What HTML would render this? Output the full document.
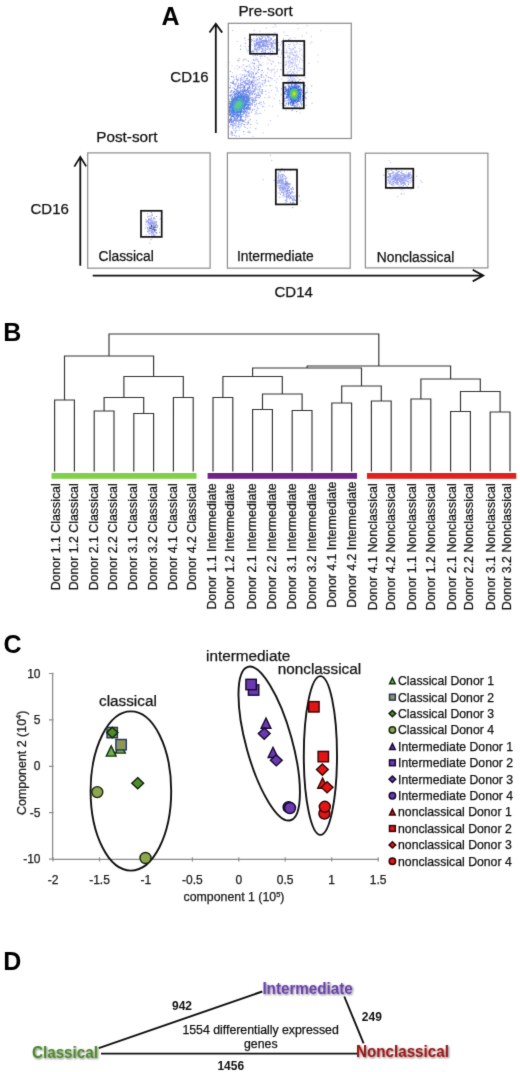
<!DOCTYPE html>
<html><head><meta charset="utf-8"><title>Figure</title>
<style>
html,body{margin:0;padding:0;background:#fff;}
body{width:520px;height:1072px;overflow:hidden;}
svg{display:block;}
text{font-family:"Liberation Sans",sans-serif;fill:#111;stroke:#111;stroke-width:0.25px;}
.b{font-weight:bold;stroke:none;}
.lab{font-size:13.8px;}
.big{font-size:25px;font-weight:bold;fill:#000;stroke:none;}
.den{stroke:#333;stroke-width:1.15;fill:none;}
.dl{font-size:12.35px;}
.ax{font-size:12px;fill:#222;}
.lab15{font-size:15px;}
.lab153{font-size:15.3px;}
.lg{font-size:12.25px;}
.el{fill:none;stroke:#111;stroke-width:1.9;}
.gate{fill:none;stroke:#111;stroke-width:1.7;}
.box{fill:none;stroke:#8c8c8c;stroke-width:1.2;}
.arr{fill:none;stroke:#111;stroke-width:1.8;}
</style></head><body>
<svg width="520" height="1072" viewBox="0 0 520 1072">
<defs>
<filter id="sh" x="-10%" y="-30%" width="120%" height="170%"><feGaussianBlur in="SourceAlpha" stdDeviation="1.1" result="b"/><feOffset in="b" dx="1" dy="1" result="o"/><feComponentTransfer in="o" result="s"><feFuncA type="linear" slope="0.55"/></feComponentTransfer><feMerge><feMergeNode in="s"/><feMergeNode in="SourceGraphic"/></feMerge></filter>
<filter id="bl"><feGaussianBlur stdDeviation="0.45"/></filter>
<filter id="soft" filterUnits="userSpaceOnUse" x="0" y="0" width="520" height="1072" color-interpolation-filters="sRGB"><feConvolveMatrix order="3" kernelMatrix="0.011 0.084 0.011 0.084 0.62 0.084 0.011 0.084 0.011" divisor="1" edgeMode="duplicate" preserveAlpha="true"/></filter>
</defs>
<g filter="url(#soft)">
<rect width="520" height="1072" fill="#fff"/>

<g id="panelA">
<text class="big" x="161.6" y="24.5">A</text>
<text class="lab15" style="font-size:15.3px" x="238.4" y="15.7">Pre-sort</text>
<text class="lab15" x="170.3" y="82.3">CD16</text>
<text class="lab15" style="font-size:15.3px" x="96.2" y="142.4">Post-sort</text>
<text class="lab15" x="30.5" y="213.7">CD16</text>
<text class="lab" x="98.5" y="261">Classical</text>
<text class="lab" x="237" y="261">Intermediate</text>
<text class="lab" x="376.8" y="261.5">Nonclassical</text>
<text class="lab15" x="274.5" y="296.8">CD14</text>
<g filter="url(#bl)">
<path d="M265.4 91.0h1M252.4 80.7h1M240.4 101.5h1M290.6 51.9h1M286.3 52.0h1M272.7 69.1h1M243.5 134.2h1M280.0 69.6h1M237.0 97.4h1M267.2 69.0h1M261.6 56.1h1M274.5 73.9h1M277.2 116.1h1M292.5 76.2h1M237.8 86.8h1M253.5 86.4h1M278.4 63.2h1M237.6 79.5h1M271.9 106.5h1M250.3 103.3h1M245.9 49.0h1M284.3 91.6h1M246.5 71.6h1M270.7 63.4h1M247.0 128.3h1M290.5 70.2h1M296.0 42.0h1M243.0 59.8h1M264.0 53.8h1M232.5 76.1h1M234.4 98.9h1M237.5 121.3h1M299.6 44.4h1M256.9 59.6h1M256.2 120.4h1M286.1 49.1h1M273.9 76.1h1M303.2 40.7h1M281.1 69.8h1M252.4 136.4h1M289.3 57.5h1M248.8 33.8h1M275.1 94.8h1M262.8 133.0h1M270.3 60.9h1M279.0 76.4h1M283.1 87.8h1M242.3 91.7h1M282.8 49.3h1M260.3 113.4h1M283.3 32.1h1M232.9 114.9h1M254.2 78.7h1M272.6 27.1h1M265.8 28.3h1M257.0 107.2h1M298.1 56.4h1M271.1 70.0h1M274.4 80.4h1M263.1 86.1h1M273.2 62.1h1M286.2 63.2h1M306.5 25.7h1M247.6 85.6h1M276.9 89.0h1M261.8 91.8h1M244.1 112.1h1M273.7 69.6h1M264.3 97.5h1M258.9 64.2h1M249.6 92.3h1M256.6 83.6h1M262.5 36.5h1M276.3 90.8h1M303.1 71.3h1M265.6 94.6h1M259.5 31.1h1M250.9 41.9h1M285.0 86.8h1M262.2 84.4h1M279.9 57.4h1M285.4 98.1h1M277.6 45.4h1M275.5 49.5h1M276.1 82.4h1M276.8 79.1h1M258.2 49.8h1M298.9 51.3h1M275.4 26.2h1M243.3 64.9h1M303.0 74.9h1M270.2 120.7h1M278.4 48.4h1M250.2 73.8h1M276.5 71.6h1M274.5 24.6h1M308.5 63.4h1M287.4 35.5h1M264.2 110.4h1M266.3 76.2h1M285.5 35.3h1M258.2 62.2h1M275.5 87.8h1M285.3 91.0h1M277.8 91.6h1M317.5 54.9h1M263.3 106.8h1M237.8 112.2h1M257.8 83.0h1M254.3 97.2h1M297.7 28.6h1M288.7 74.7h1M237.5 69.1h1M268.8 105.8h1M294.6 59.0h1M275.3 87.0h1M245.9 59.9h1M270.7 45.8h1M231.8 94.3h1M230.2 119.3h1M245.0 115.0h1M271.6 54.7h1M260.2 64.6h1M289.5 64.9h1M280.3 63.2h1M298.8 48.4h1M236.7 41.5h1M300.9 68.1h1M248.5 80.9h1M310.9 92.7h1M255.2 111.7h1M296.8 24.1h1M287.7 72.7h1M242.9 102.2h1M281.2 79.3h1M258.1 76.7h1M236.3 102.2h1M281.1 54.3h1M231.6 92.1h1M232.0 30.5h1M282.0 66.2h1M301.9 36.0h1M269.2 85.9h1M256.8 60.9h1M317.5 61.8h1M270.7 72.0h1M238.3 77.9h1M320.3 30.8h1M311.4 41.9h1M310.8 36.6h1M249.3 105.3h1M269.4 85.6h1M245.8 96.8h1M277.1 69.6h1M277.9 62.6h1M268.6 96.1h1M249.4 67.1h1M249.8 95.4h1M262.4 82.9h1M264.9 80.0h1M238.8 67.3h1M287.5 78.4h1M267.4 63.7h1M254.9 54.5h1M256.0 112.4h1M267.6 125.1h1M232.1 72.9h1M255.6 105.2h1M274.6 66.2h1M302.5 44.8h1M271.4 85.4h1M310.2 43.1h1M264.2 37.1h1M271.1 90.5h1M273.7 98.5h1M288.5 71.8h1M299.6 113.1h1M282.7 41.0h1M306.3 105.2h1M269.6 97.6h1M281.2 50.8h1M242.3 112.7h1M287.5 81.0h1M277.7 56.5h1M287.5 60.4h1M266.9 72.9h1M268.5 92.6h1M231.1 100.1h1M238.1 61.1h1M258.0 103.5h1M272.2 61.6h1M234.3 68.2h1M306.1 33.0h1M268.9 37.4h1M228.6 62.3h1M292.5 67.0h1M245.4 40.2h1M236.0 77.4h1M251.8 72.3h1M259.7 64.2h1M269.9 51.9h1M235.8 91.2h1M234.4 85.3h1M249.3 73.3h1M244.3 59.0h1M239.4 91.6h1M246.4 74.1h1M244.8 70.5h1M258.1 62.0h1M245.1 71.2h1M231.7 65.8h1M241.9 87.7h1M238.5 96.6h1M242.7 65.1h1M245.9 75.0h1M257.7 66.7h1M244.4 69.8h1M248.4 74.1h1M258.0 61.3h1M235.5 79.0h1M242.3 75.5h1M239.9 89.3h1M246.5 80.2h1M251.9 62.3h1M267.7 34.0h1M260.1 54.9h1M244.7 46.5h1M245.2 84.8h1M269.5 70.1h1M260.6 71.1h1M262.3 62.9h1M253.3 63.4h1M247.6 60.4h1M253.7 49.9h1M265.2 75.0h1M248.2 75.6h1M260.0 53.6h1M244.8 85.7h1M259.3 65.1h1M254.3 90.0h1M264.2 45.6h1M249.6 66.3h1M257.6 47.2h1M252.7 59.7h1M248.6 85.4h1M261.2 50.8h1M249.3 85.4h1M251.5 73.8h1M269.9 51.5h1M259.7 87.8h1M254.9 74.5h1M244.3 82.1h1M246.3 105.7h1M254.0 46.3h1M257.1 51.8h1M247.6 71.9h1M242.3 70.3h1M241.3 66.9h1M251.3 74.2h1M252.5 63.8h1M243.3 86.9h1M255.6 84.8h1M255.8 59.4h1M241.7 77.2h1M239.9 85.7h1M255.7 69.0h1M267.8 69.9h1M244.1 83.2h1M246.6 80.8h1M253.8 70.9h1M250.2 77.0h1M255.2 73.7h1M228.5 99.2h1M243.6 68.6h1M245.1 90.7h1M248.4 84.4h1M258.2 61.2h1M253.6 63.6h1M237.9 94.3h1M250.6 63.0h1M253.8 76.0h1M246.5 88.1h1M262.3 40.6h1M250.3 69.2h1M265.0 48.6h1M253.3 55.5h1M249.8 72.2h1M243.9 105.0h1M246.8 52.0h1M255.5 59.7h1M256.1 66.1h1M236.0 95.1h1M259.1 46.4h1M233.0 83.8h1M241.8 92.5h1M267.0 46.5h1M265.9 75.4h1M241.4 78.0h1M257.9 65.4h1M234.2 84.3h1M254.0 68.2h1M237.7 92.1h1M248.3 82.1h1M248.5 73.6h1M253.5 81.1h1M259.5 48.7h1M252.5 56.1h1M255.2 73.3h1M260.4 46.7h1M250.6 73.8h1M237.4 95.9h1M246.6 84.0h1M251.9 72.2h1M250.9 83.6h1M243.9 74.4h1M244.3 59.3h1M244.1 82.7h1M256.2 58.0h1M248.6 64.9h1M262.8 72.7h1M258.8 90.7h1M244.7 82.3h1M257.8 72.6h1M260.0 65.0h1M271.5 70.7h1M253.3 69.6h1M260.1 58.4h1M256.4 41.5h1M254.6 57.9h1M271.1 64.4h1M248.4 71.3h1M240.6 77.2h1M248.6 84.1h1M250.7 71.6h1M254.2 77.8h1M253.3 63.7h1M254.7 60.9h1M249.3 95.1h1M248.0 61.5h1M261.2 56.0h1M246.7 102.2h1M258.3 69.6h1M250.7 68.4h1M242.9 99.8h1M248.5 70.6h1M253.4 66.7h1M253.4 60.0h1M236.5 65.6h1M250.6 80.9h1M259.0 49.6h1M258.8 79.1h1M289.5 48.6h1M289.4 57.0h1M296.4 51.9h1M284.1 57.2h1M294.3 74.7h1M287.0 74.0h1M295.0 62.9h1M288.6 48.5h1M287.8 68.1h1M293.0 69.6h1M300.1 58.2h1M291.8 78.7h1M286.2 53.2h1M290.4 53.9h1M292.6 49.0h1M297.1 43.3h1M288.4 39.8h1M285.8 64.4h1M294.8 55.9h1M295.7 64.7h1M289.4 57.6h1M293.6 79.7h1M290.1 62.0h1M294.4 71.2h1M293.9 69.6h1M287.3 55.2h1M283.4 57.5h1M302.3 60.7h1M292.4 60.9h1M292.6 43.8h1M288.9 56.2h1M292.7 48.8h1M291.5 50.2h1M286.2 51.0h1M288.4 67.1h1M297.9 64.3h1M291.1 52.1h1M285.1 52.4h1M298.9 70.5h1M293.0 55.4h1M292.0 62.6h1M292.0 62.7h1M288.6 58.6h1M290.4 69.6h1M286.5 72.0h1M291.6 52.7h1M292.1 59.4h1M291.0 62.6h1M289.4 39.9h1M295.1 57.8h1M299.4 62.2h1M283.2 71.4h1M289.0 64.0h1M301.8 69.8h1M287.2 57.1h1M284.9 65.2h1M294.5 47.1h1M294.0 68.1h1M295.6 50.9h1M288.9 46.1h1M286.3 61.5h1M292.2 72.0h1M293.2 54.6h1M285.7 74.6h1M292.7 57.8h1M287.6 46.9h1M294.8 47.7h1M294.6 64.8h1M290.3 40.7h1M293.8 73.1h1M288.4 44.6h1M296.8 59.6h1M289.2 71.2h1M290.8 62.9h1M290.2 50.1h1M293.0 48.9h1M284.2 52.3h1M297.5 69.8h1M301.6 68.7h1M299.1 60.8h1M290.1 63.1h1M287.8 66.0h1M290.0 60.9h1M288.2 56.7h1M296.3 55.8h1M289.0 61.1h1M295.9 56.1h1M286.8 41.5h1M286.1 69.5h1M291.6 63.2h1M296.7 61.1h1M294.1 52.7h1M284.9 64.8h1M291.6 64.2h1M287.3 56.6h1M300.9 49.2h1M292.4 72.1h1M291.0 59.5h1M282.6 66.4h1M290.1 71.8h1M291.6 54.2h1M293.9 55.6h1M289.7 74.5h1M296.3 59.3h1M295.6 66.9h1M294.6 58.6h1M292.3 62.5h1M294.5 61.9h1M289.6 57.3h1M294.0 47.7h1M292.0 66.2h1M292.7 55.1h1M291.9 53.0h1M296.3 54.2h1M284.7 45.4h1M293.3 60.4h1M289.9 44.3h1M291.3 49.3h1M289.1 58.1h1M288.6 61.4h1M288.7 53.2h1M291.0 73.6h1M298.9 68.1h1M288.8 58.2h1M296.0 66.7h1M284.8 57.6h1M288.7 66.1h1M294.8 52.5h1M301.4 55.2h1M302.8 56.4h1M291.6 78.2h1M289.7 53.2h1M298.5 57.8h1M294.1 44.9h1M299.9 68.5h1M293.6 65.6h1M289.8 53.2h1M285.1 62.1h1M297.4 67.2h1M296.1 65.6h1M287.9 44.5h1M294.8 59.9h1M296.3 55.3h1M288.1 62.8h1M289.5 41.0h1M289.3 49.0h1M287.1 52.4h1M296.2 82.9h1M299.6 53.8h1M297.0 57.4h1M293.8 51.1h1M291.7 40.6h1M299.9 50.2h1M294.6 52.0h1M293.2 45.9h1M290.3 67.7h1M294.6 37.8h1M295.8 44.4h1M293.3 63.6h1M289.2 54.9h1M290.9 62.4h1M296.0 72.4h1M293.4 79.1h1M287.8 76.8h1M290.8 66.2h1M291.4 59.1h1M288.0 62.2h1M300.9 59.7h1M291.9 58.2h1M295.1 56.0h1M296.4 68.3h1M293.0 73.8h1M297.3 71.9h1M289.9 74.6h1M295.6 84.1h1M290.4 88.8h1M294.7 75.9h1M295.4 79.9h1M297.3 81.7h1M302.7 85.7h1M291.5 83.8h1M297.0 75.1h1M291.1 76.1h1M284.3 83.1h1M293.2 86.0h1M291.8 80.4h1M296.9 84.7h1M295.3 74.9h1M302.7 84.2h1M299.4 87.9h1M299.6 82.0h1M295.9 83.1h1M288.1 84.0h1M290.2 82.1h1M290.0 83.5h1M292.1 92.1h1M294.8 82.5h1M290.5 78.6h1M293.8 78.6h1M292.3 75.7h1M297.0 78.1h1M290.8 81.8h1M290.8 79.2h1M292.0 75.5h1M293.1 76.0h1M289.1 81.7h1M292.9 72.9h1M292.5 80.9h1M295.7 81.8h1M295.0 82.9h1" stroke="#b4b8f2" stroke-width="1" fill="none"/><path d="M242.9 109.8h1M244.5 80.7h1M235.3 119.8h1M242.5 92.3h1M234.5 84.4h1M230.3 110.2h1M237.7 99.2h1M256.2 100.2h1M242.7 60.9h1M252.7 90.2h1M248.6 104.6h1M234.6 104.2h1M234.0 112.7h1M243.5 94.9h1M235.5 76.6h1M248.0 90.7h1M247.1 96.6h1M248.7 81.5h1M252.1 110.5h1M242.4 94.7h1M248.6 102.8h1M247.3 97.7h1M244.7 96.3h1M237.8 120.1h1M235.2 104.9h1M237.8 114.1h1M245.0 114.2h1M238.6 58.6h1M240.3 110.5h1M236.5 111.3h1M248.8 97.1h1M228.6 79.0h1M237.6 107.1h1M236.1 96.9h1M238.2 95.2h1M252.4 84.7h1M238.0 100.7h1M234.5 124.3h1M234.5 118.6h1M234.5 113.2h1M236.4 111.8h1M251.6 90.8h1M235.5 104.8h1M237.0 60.4h1M267.7 97.9h1M241.9 93.0h1M249.6 90.7h1M238.0 96.6h1M232.8 115.0h1M264.9 91.3h1M274.3 72.3h1M236.2 95.5h1M241.2 123.5h1M237.0 111.6h1M237.5 100.9h1M237.4 94.4h1M245.3 94.1h1M237.7 103.1h1M247.6 88.0h1M250.3 93.2h1M251.5 104.0h1M265.6 85.7h1M244.4 103.9h1M255.4 87.6h1M238.3 113.4h1M252.2 80.9h1M230.5 113.5h1M247.3 77.0h1M238.2 112.8h1M257.6 80.1h1M242.6 93.4h1M231.0 90.9h1M231.3 98.0h1M242.3 102.6h1M243.9 120.5h1M229.3 115.7h1M233.5 92.9h1M249.6 109.8h1M240.6 89.8h1M232.8 126.7h1M231.1 112.2h1M252.8 102.5h1M253.8 85.8h1M240.9 125.7h1M260.8 77.6h1M247.2 66.1h1M242.9 99.7h1M235.2 98.8h1M249.1 113.0h1M232.4 128.5h1M233.3 111.5h1M245.4 91.9h1M243.0 124.4h1M258.7 82.3h1M238.7 130.3h1M241.3 112.6h1M231.8 93.9h1M246.2 99.0h1M246.8 105.3h1M234.7 110.5h1M241.9 108.9h1M250.7 92.5h1M252.8 74.7h1M236.5 127.6h1M254.8 93.4h1M236.1 126.1h1M242.7 86.4h1M230.3 92.4h1M230.9 91.0h1M236.0 118.7h1M234.1 95.5h1M251.9 84.9h1M245.7 83.3h1M236.6 89.1h1M271.6 78.9h1M246.3 108.3h1M239.0 111.8h1M234.2 88.9h1M231.8 121.9h1M241.7 119.5h1M233.6 83.8h1M234.7 114.9h1M253.0 78.1h1M245.2 111.8h1M234.4 123.7h1M229.9 106.5h1M259.0 78.3h1M260.5 89.8h1M260.9 65.8h1M246.0 96.6h1M254.3 106.2h1M262.0 93.7h1M254.9 100.3h1M232.1 112.0h1M231.1 119.9h1M242.3 95.9h1M240.5 98.2h1M240.3 116.7h1M249.9 102.2h1M237.5 93.3h1M233.5 113.9h1M242.3 111.4h1M248.4 91.0h1M244.8 81.3h1M243.7 81.6h1M236.8 99.6h1M242.8 101.3h1M234.3 84.1h1M232.1 111.6h1M244.8 111.0h1M253.0 85.4h1M234.7 89.9h1M243.6 85.6h1M248.0 84.5h1M238.7 108.9h1M232.5 106.2h1M241.9 101.0h1M252.4 79.4h1M268.5 81.0h1M261.7 80.5h1M258.8 113.3h1M238.6 101.9h1M252.5 80.9h1M238.5 98.0h1M260.9 93.8h1M237.4 107.4h1M259.3 91.2h1M231.4 112.0h1M243.5 116.8h1M252.9 72.9h1M230.7 110.3h1M239.3 122.5h1M235.3 122.1h1M258.3 76.6h1M256.0 100.7h1M235.8 112.6h1M252.1 109.4h1M259.4 82.6h1M246.5 100.8h1M255.8 97.8h1M240.6 118.5h1M237.3 119.6h1M236.8 97.7h1M230.0 111.2h1M242.0 103.2h1M243.5 98.4h1M241.0 96.6h1M249.2 108.0h1M229.6 105.8h1M259.2 54.0h1M246.7 106.2h1M245.6 94.9h1M231.4 104.6h1M249.7 93.7h1M235.7 111.3h1M244.5 103.6h1M234.1 101.4h1M260.6 104.7h1M239.5 74.7h1M251.8 94.9h1M264.9 79.0h1M233.9 106.2h1M248.5 98.0h1M238.1 91.7h1M232.8 104.7h1M234.4 114.7h1M249.0 93.7h1M240.6 97.1h1M232.8 100.6h1M241.2 99.2h1M233.9 101.8h1M236.4 93.6h1M236.1 78.9h1M243.1 85.1h1M240.1 91.5h1M258.9 97.9h1M239.9 119.8h1M257.3 89.1h1M245.2 117.9h1M238.7 124.9h1M229.4 120.0h1M244.5 91.0h1M244.7 100.8h1M251.9 82.4h1M235.6 102.3h1M239.9 81.1h1M245.0 95.2h1M243.0 105.4h1M238.7 110.0h1M235.4 99.8h1M238.7 116.7h1M252.1 86.5h1M253.4 65.8h1M236.5 107.3h1M235.0 120.2h1M246.3 80.2h1M231.5 82.9h1M231.5 107.0h1M231.8 104.3h1M247.3 108.4h1M234.7 109.8h1M245.2 110.1h1M244.0 107.6h1M237.1 86.4h1M255.1 100.9h1M243.0 108.9h1M250.6 103.5h1M239.6 92.6h1M240.1 87.7h1M250.1 89.7h1M232.4 127.2h1M247.8 95.5h1M231.1 94.8h1M229.3 111.0h1M238.2 120.0h1M239.1 114.2h1M229.4 87.7h1M254.2 94.1h1M243.0 88.7h1M236.5 79.8h1M229.4 119.5h1M241.1 118.8h1M250.5 92.4h1M237.3 120.6h1M247.1 84.1h1M233.5 123.6h1M235.9 109.1h1M248.8 97.9h1M229.9 119.4h1M236.8 104.0h1M237.5 86.7h1M230.0 121.1h1M229.2 113.9h1M241.6 100.0h1M231.5 101.4h1M234.8 117.3h1M261.1 75.1h1M242.3 103.2h1M247.8 105.3h1M233.7 101.3h1M248.4 120.7h1M245.4 89.2h1M234.9 108.1h1M239.2 107.4h1M260.5 87.2h1M242.2 102.7h1M230.4 105.9h1M256.7 94.1h1M238.7 96.2h1M242.7 82.7h1M240.1 111.8h1M240.1 95.2h1M238.5 122.3h1M231.1 112.4h1M244.9 116.9h1M254.0 90.3h1M240.7 117.0h1M257.4 89.8h1M244.6 76.5h1M241.7 74.6h1M248.8 96.2h1M253.9 80.9h1M230.2 106.0h1M232.7 102.7h1M238.5 91.0h1M233.1 106.7h1M247.0 99.0h1M244.4 110.5h1M248.3 90.3h1M233.1 101.4h1M233.4 125.3h1M240.1 102.5h1M241.6 104.2h1M247.4 92.1h1M230.2 103.4h1M242.5 105.0h1M255.5 82.2h1M242.0 94.0h1M237.9 100.5h1M242.2 107.0h1M246.0 104.1h1M230.6 117.8h1M244.1 87.7h1M254.0 93.9h1M248.3 91.9h1M257.0 84.6h1M244.8 80.3h1M238.2 92.5h1M254.3 98.8h1M236.2 75.1h1M237.3 92.9h1M240.1 118.6h1M240.1 126.8h1M249.0 97.9h1M243.1 99.0h1M236.1 79.5h1M234.2 94.3h1M248.4 112.3h1M242.3 114.2h1M245.3 110.7h1M239.1 67.0h1M238.6 98.7h1M246.2 84.2h1M230.9 106.9h1M243.8 126.2h1M245.9 92.9h1M228.9 105.2h1M239.8 119.5h1M229.7 114.3h1M246.9 96.5h1M241.7 84.2h1M230.5 121.4h1M251.2 104.3h1M235.6 106.4h1M239.0 107.8h1M236.5 99.7h1M252.0 77.7h1M260.5 83.8h1M230.2 102.1h1M240.2 84.9h1M246.5 71.6h1M257.3 95.5h1M243.3 121.5h1M250.6 94.3h1M264.9 82.0h1M250.7 100.4h1M242.3 100.2h1M239.6 109.7h1M240.5 85.3h1M241.1 108.6h1M238.8 99.7h1M229.8 104.8h1M238.3 90.3h1M249.4 91.7h1M259.1 103.6h1M236.8 105.2h1M249.9 98.4h1M231.7 104.9h1M240.4 112.4h1M247.5 116.9h1M230.4 98.4h1M229.9 115.3h1M249.2 90.7h1M231.2 112.2h1M243.9 109.3h1M229.1 99.8h1M244.1 88.0h1M241.6 123.5h1M233.4 102.3h1M238.7 111.7h1M241.1 108.2h1M242.5 91.5h1M250.5 88.9h1M231.6 109.7h1M244.8 82.4h1M237.1 99.6h1M230.2 110.7h1M233.9 99.6h1M234.7 96.5h1M235.6 114.5h1M244.9 94.4h1M252.0 87.3h1M242.6 100.9h1M235.5 97.1h1M230.0 108.3h1M234.9 92.6h1M235.7 131.1h1M253.1 85.9h1M247.0 80.3h1M245.7 103.5h1M229.9 95.0h1M240.0 91.6h1M256.0 95.1h1M259.2 102.2h1M241.2 124.0h1M239.7 93.9h1M238.6 60.3h1M241.1 103.8h1M269.6 77.9h1M246.6 95.9h1M244.7 127.5h1M241.8 98.0h1M254.6 106.5h1M237.2 102.5h1M234.0 112.8h1M238.1 109.2h1M267.1 57.9h1M251.5 94.7h1M236.1 109.3h1M263.7 103.7h1M241.5 79.6h1M243.9 105.8h1M242.5 104.0h1M238.3 114.7h1M238.8 115.8h1M240.8 100.5h1M244.8 101.5h1M236.8 81.7h1M231.3 103.2h1M249.8 127.8h1M238.6 87.4h1M251.6 105.5h1M230.8 101.7h1M229.0 119.4h1M237.2 95.0h1M259.3 95.5h1M233.9 79.7h1M248.2 98.0h1M230.3 104.6h1M233.5 112.6h1M272.1 51.6h1M275.7 40.7h1M271.5 50.3h1M247.9 39.5h1M256.3 41.5h1M266.6 43.2h1M262.8 46.2h1M262.6 40.5h1M262.1 37.4h1M271.1 47.1h1M262.5 40.9h1M289.8 38.3h1M248.1 46.5h1M247.6 50.5h1M263.5 41.4h1M262.4 42.6h1M263.2 41.6h1M258.4 40.6h1M265.2 43.2h1M265.2 46.3h1M267.2 49.0h1M271.7 41.8h1M277.0 42.6h1M268.8 40.1h1M277.9 49.9h1M270.0 49.9h1M262.6 48.4h1M250.7 41.4h1M269.3 41.1h1M285.4 40.7h1M271.2 43.1h1M268.8 44.6h1M268.2 46.6h1M275.0 41.8h1M256.8 39.7h1M256.5 48.8h1M269.7 38.2h1M256.2 34.4h1M271.5 45.5h1M248.6 49.0h1M268.9 44.3h1M270.0 51.8h1M274.4 32.7h1M273.7 48.9h1M263.4 46.5h1M266.0 46.2h1M251.3 39.6h1M254.3 41.3h1M266.3 44.2h1M258.3 45.6h1M263.8 40.6h1M258.0 46.7h1M264.0 40.8h1M256.2 36.4h1M273.2 41.1h1M269.7 46.0h1M273.3 47.5h1M263.7 46.7h1M261.1 47.8h1M274.1 40.1h1M270.1 38.6h1M269.7 49.4h1M262.9 36.7h1M264.1 43.8h1M264.9 48.6h1M253.7 30.4h1M253.6 48.1h1M259.3 45.1h1M272.5 46.5h1M281.4 43.4h1M271.1 47.2h1M258.3 44.2h1M259.0 39.3h1M275.7 46.0h1M262.3 45.4h1M255.0 49.4h1M259.8 56.5h1M262.9 44.1h1M272.6 51.7h1M262.7 41.8h1M265.9 44.0h1M253.6 51.5h1M274.8 42.7h1M273.3 42.1h1M256.3 44.4h1M258.7 42.3h1M255.2 43.9h1M260.9 41.5h1M257.2 43.3h1M255.8 43.7h1M250.6 44.8h1M259.2 47.1h1M255.0 50.0h1M262.9 40.9h1M264.9 52.0h1M256.7 38.3h1M255.4 38.7h1M273.0 42.7h1M253.5 33.5h1M265.4 40.9h1M255.7 45.8h1M255.0 55.4h1M265.4 46.5h1M260.0 54.2h1M273.5 36.2h1M264.6 39.6h1M276.1 50.8h1M256.0 45.7h1M271.4 44.6h1M254.1 49.6h1M259.8 41.9h1M275.4 44.9h1M268.4 42.2h1M262.5 45.1h1M258.3 49.9h1M255.8 40.7h1M260.4 48.4h1M281.0 53.0h1M264.5 53.0h1M270.9 45.5h1M266.2 35.3h1M255.9 42.6h1M264.7 41.9h1M262.7 51.7h1M271.0 46.8h1M263.6 44.3h1M268.3 43.7h1M254.2 43.6h1M267.6 53.1h1M270.9 42.8h1M270.8 42.8h1M257.3 38.2h1M255.8 45.6h1M254.3 49.3h1M269.0 44.6h1M275.2 42.3h1M259.3 39.2h1M268.9 49.9h1M260.8 42.0h1M259.8 42.2h1M259.4 43.2h1M252.5 44.7h1M268.1 47.0h1M253.2 38.6h1M249.4 47.1h1M251.3 40.9h1M278.1 42.4h1M280.2 45.0h1M269.3 41.5h1M266.3 44.7h1M260.3 54.2h1M276.9 38.8h1M276.6 40.3h1M278.8 49.7h1M253.1 42.0h1M266.4 41.0h1M260.8 39.7h1M264.4 47.2h1M270.8 42.7h1M254.1 43.7h1M263.0 34.6h1M293.5 95.7h1M293.6 100.2h1M298.7 92.6h1M297.4 101.7h1M288.3 86.7h1M302.4 87.5h1M290.1 77.3h1M288.6 85.2h1M295.0 88.7h1M288.8 79.5h1M295.6 96.9h1M296.9 93.2h1M284.3 101.5h1M289.5 86.9h1M297.2 93.9h1M293.1 95.0h1M295.0 95.4h1M297.3 85.5h1M290.3 97.9h1M292.0 92.1h1M295.8 84.4h1M299.1 100.7h1M299.4 86.3h1M298.9 79.9h1M290.2 98.3h1M294.0 83.6h1M299.6 89.0h1M286.7 96.4h1M291.4 74.5h1M289.0 88.0h1M294.9 92.2h1M287.6 83.2h1M286.1 92.2h1M290.2 102.9h1M302.7 90.3h1M297.5 92.3h1M288.1 93.3h1M287.9 105.1h1M280.6 94.8h1M290.3 104.5h1M289.2 80.6h1M300.7 105.2h1M290.8 83.4h1M300.4 103.0h1M297.2 97.5h1M294.8 89.9h1M297.5 98.3h1M295.9 90.9h1M301.7 99.6h1M287.7 80.9h1M297.3 99.3h1M291.5 99.4h1M298.7 85.9h1M293.4 97.5h1M296.7 100.6h1M297.7 89.4h1M292.7 77.0h1M291.0 88.6h1M287.7 96.8h1M299.1 90.2h1M296.4 93.1h1M300.4 88.9h1M297.5 88.4h1M299.4 82.7h1M286.2 104.0h1M295.6 106.2h1M296.8 106.7h1M293.2 90.8h1M299.5 97.8h1M299.1 93.1h1M290.1 100.3h1M290.9 102.0h1M279.0 100.9h1M290.0 92.0h1M296.6 90.5h1M294.6 86.0h1M286.9 91.8h1M295.5 94.7h1M289.3 84.0h1M284.5 105.5h1M295.5 88.2h1M291.3 89.6h1M299.6 96.4h1M289.7 95.8h1M295.9 86.4h1M290.2 92.2h1M285.8 91.8h1M297.5 98.0h1M294.8 108.3h1M299.4 94.7h1M300.0 84.4h1M292.6 87.8h1M284.4 87.9h1M294.3 93.9h1M294.1 87.5h1M296.0 106.7h1M284.7 90.1h1M293.3 94.0h1M293.0 105.1h1M294.2 83.4h1M291.7 89.6h1M291.6 100.4h1M292.6 84.2h1M297.7 104.8h1M295.0 96.7h1M293.4 103.0h1M292.1 109.4h1M297.7 91.7h1M293.5 82.4h1M306.6 88.1h1M298.4 94.6h1M291.9 98.5h1M293.2 95.2h1M294.8 82.1h1M295.3 84.7h1M301.1 105.7h1M291.6 91.8h1M301.9 96.4h1M296.1 88.0h1M279.5 103.7h1M296.8 104.9h1M290.1 93.2h1M285.5 110.2h1M296.0 93.1h1M295.3 82.2h1M291.3 102.9h1M303.1 101.1h1M290.9 86.9h1M306.6 91.1h1M292.7 93.2h1M285.1 86.3h1M296.4 95.0h1M294.3 98.1h1M300.0 87.4h1M311.5 103.2h1M304.3 105.3h1M298.3 83.8h1M297.5 101.1h1M293.1 99.5h1M285.8 96.7h1M286.9 93.4h1M292.4 97.6h1M299.1 89.9h1M292.3 81.5h1M290.7 105.5h1M296.0 100.0h1M298.0 81.9h1M296.2 93.5h1M294.1 97.5h1M292.0 81.8h1M286.5 93.0h1M300.5 88.8h1M284.3 94.5h1M288.4 97.5h1M287.1 98.0h1M290.0 99.7h1M288.8 97.2h1M295.9 93.4h1M289.1 90.1h1M293.6 95.3h1M292.1 102.2h1M300.6 82.8h1M299.1 100.6h1M290.5 95.1h1M302.6 99.7h1" stroke="#a2aaf0" stroke-width="1" fill="none"/><path d="M253.7 77.0h1M241.1 98.6h1M249.4 104.8h1M254.1 63.5h1M239.1 112.6h1M232.6 87.8h1M243.2 111.4h1M242.8 103.4h1M251.9 84.5h1M248.4 131.2h1M242.8 104.3h1M229.9 101.9h1M238.3 92.4h1M230.0 113.7h1M234.6 100.1h1M245.7 104.8h1M262.3 91.0h1M230.6 112.1h1M234.0 88.7h1M243.9 87.3h1M239.7 87.8h1M249.8 108.0h1M232.8 105.7h1M247.6 88.9h1M233.5 103.9h1M242.6 108.3h1M233.7 91.9h1M256.3 95.3h1M250.4 124.4h1M240.9 115.0h1M234.2 100.7h1M257.8 70.0h1M233.3 130.1h1M234.9 132.4h1M250.9 83.5h1M255.0 87.2h1M239.9 117.7h1M252.7 91.4h1M245.0 101.4h1M253.2 59.9h1M243.7 86.9h1M243.2 81.6h1M238.2 95.9h1M235.5 130.3h1M249.0 102.9h1M231.4 116.2h1M248.3 96.0h1M238.9 96.3h1M230.6 108.5h1M235.5 121.9h1M252.5 82.2h1M236.9 109.4h1M251.6 94.0h1M237.6 106.2h1M237.2 106.9h1M232.0 116.5h1M242.9 93.6h1M235.8 99.3h1M241.5 90.5h1M247.3 102.0h1M246.0 93.3h1M258.3 95.2h1M253.5 91.4h1M229.7 108.4h1M240.2 85.0h1M229.1 109.4h1M249.9 82.0h1M240.2 102.6h1M247.8 96.8h1M232.7 109.2h1M240.1 78.9h1M256.4 110.3h1M252.0 85.6h1M250.8 83.5h1M253.2 100.8h1M237.6 96.1h1M243.4 109.8h1M260.7 74.5h1M256.0 73.4h1M231.3 98.5h1M244.1 102.8h1M232.8 101.8h1M244.3 91.1h1M240.1 99.6h1M245.1 105.6h1M233.2 98.8h1M257.5 108.5h1M263.2 77.0h1M242.5 100.6h1M265.1 80.7h1M241.0 108.5h1M242.7 97.9h1M232.8 81.0h1M247.4 95.7h1M237.2 80.2h1M231.0 108.0h1M244.9 97.5h1M243.6 112.4h1M246.9 90.9h1M240.1 113.5h1M247.2 83.6h1M238.2 85.2h1M249.6 87.6h1M242.5 120.5h1M239.8 96.4h1M237.9 95.9h1M249.5 84.7h1M251.8 99.3h1M256.7 113.9h1M243.9 106.9h1M228.7 103.0h1M255.6 89.2h1M229.7 109.1h1M237.9 116.6h1M240.6 96.0h1M240.3 98.8h1M247.3 101.8h1M242.5 84.9h1M249.2 104.7h1M229.4 95.8h1M260.6 92.2h1M251.2 97.9h1M252.2 93.4h1M240.8 91.8h1M248.4 100.6h1M250.8 77.0h1M267.9 77.3h1M231.1 99.4h1M253.9 100.3h1M247.4 95.7h1M239.7 105.7h1M237.5 112.9h1M238.2 83.6h1M245.4 115.3h1M251.3 91.6h1M231.7 107.6h1M228.8 110.3h1M254.7 98.4h1M258.5 94.0h1M254.2 89.3h1M254.0 102.2h1M237.4 126.1h1M240.3 106.2h1M248.9 86.8h1M234.7 125.4h1M241.0 111.6h1M254.3 104.5h1M245.7 83.1h1M256.0 103.8h1M258.9 89.1h1M262.2 106.4h1M234.9 108.8h1M237.7 91.7h1M238.9 92.5h1M239.7 112.3h1M237.6 111.8h1M244.4 107.1h1M247.7 72.0h1M244.3 76.3h1M238.1 103.2h1M231.9 105.8h1M240.9 108.8h1M244.1 76.1h1M229.7 87.8h1M230.5 133.9h1M244.5 103.4h1M237.3 107.3h1M236.5 110.7h1M255.9 73.6h1M231.9 121.9h1M239.7 116.0h1M252.6 82.7h1M247.6 132.4h1M230.3 118.9h1M244.3 124.5h1M235.5 121.2h1M237.1 91.3h1M246.3 113.1h1M255.4 80.3h1M241.3 84.5h1M245.4 92.4h1M233.0 103.9h1M229.8 106.9h1M243.7 112.5h1M244.8 95.2h1M248.5 87.6h1M242.1 100.6h1M233.4 101.2h1M234.7 100.4h1M257.1 79.5h1M236.5 101.1h1M246.4 117.1h1M240.2 119.1h1M233.1 125.2h1M240.7 120.5h1M228.6 109.7h1M238.1 126.5h1M248.7 74.9h1M267.5 68.4h1M231.8 133.9h1M236.6 94.6h1M246.3 90.3h1M232.4 81.7h1M232.1 83.2h1M231.6 111.4h1M237.6 80.0h1M240.7 107.0h1M243.0 90.8h1M234.2 93.4h1M235.4 97.6h1M241.3 85.1h1M230.9 122.6h1M243.3 100.3h1M247.6 87.4h1M255.4 88.8h1M238.2 104.9h1M268.6 59.8h1M239.7 87.0h1M231.9 111.4h1M233.8 95.0h1M248.6 75.6h1M231.1 76.5h1M246.0 101.5h1M229.1 112.0h1M267.7 81.2h1M236.9 111.1h1M242.5 102.4h1M244.8 70.4h1M239.3 98.5h1M231.3 90.5h1M243.7 104.4h1M238.4 102.5h1M261.7 70.5h1M237.3 85.7h1M235.1 116.1h1M236.4 90.3h1M243.0 102.4h1M261.9 89.7h1M246.8 107.7h1M252.2 97.4h1M247.6 123.3h1M270.4 77.9h1M261.4 75.1h1M244.8 105.2h1M258.0 67.7h1M236.1 93.8h1M240.7 101.6h1M236.8 88.7h1M250.7 99.6h1M242.0 91.6h1M234.3 108.4h1M257.5 97.3h1M244.5 97.2h1M244.2 106.2h1M234.8 89.6h1M243.5 101.8h1M231.5 99.6h1M237.0 101.6h1M238.7 104.7h1M240.1 109.8h1M249.9 84.0h1M234.0 120.6h1M232.8 82.5h1M260.7 76.8h1M246.4 83.9h1M238.1 104.8h1M253.8 109.4h1M244.2 95.7h1M233.7 102.6h1M231.0 119.9h1M254.1 94.4h1M232.9 77.4h1M237.5 88.1h1M235.8 136.1h1M234.5 96.1h1M247.2 104.8h1M230.3 82.6h1M232.8 83.3h1M247.9 106.1h1M229.6 108.8h1M244.9 94.1h1M251.1 75.2h1M240.3 98.3h1M231.7 108.2h1M230.5 117.3h1M244.4 89.2h1M246.3 114.8h1M254.7 91.0h1M246.8 83.4h1M245.8 97.8h1M253.5 88.6h1M232.5 121.6h1M238.8 120.3h1M247.9 88.3h1M256.6 123.2h1M248.5 115.9h1M244.0 100.2h1M249.5 76.6h1M249.7 97.3h1M241.8 120.3h1M236.0 89.8h1M232.0 96.4h1M231.2 90.8h1M241.6 94.2h1M240.0 100.8h1M229.1 114.2h1M228.5 87.7h1M234.0 119.2h1M232.7 100.8h1M231.4 118.3h1M248.6 100.0h1M235.4 106.8h1M243.9 91.5h1M231.7 135.4h1M242.6 97.4h1M245.9 76.0h1M230.0 104.3h1M243.2 131.5h1M247.1 88.1h1M249.1 98.8h1M252.9 73.2h1M242.6 80.1h1M229.8 71.4h1M241.3 87.3h1M246.3 100.7h1M235.1 128.1h1M246.5 115.8h1M247.0 89.3h1M233.1 104.6h1M249.6 109.9h1M246.4 97.3h1M236.7 99.7h1M246.6 96.0h1M234.3 96.8h1M248.2 99.0h1M263.5 80.7h1M230.1 112.3h1M233.6 123.5h1M248.0 72.0h1M248.0 122.6h1M236.9 93.8h1M244.8 104.1h1M240.5 110.1h1M230.7 115.7h1M241.0 111.1h1M248.1 100.6h1M248.6 93.8h1M230.7 131.4h1M237.4 96.8h1M241.9 121.6h1M238.8 136.1h1M262.9 101.9h1M234.1 112.7h1M237.1 110.2h1M232.7 102.2h1M232.4 108.3h1M229.3 120.3h1M251.0 112.1h1M239.4 108.0h1M260.0 96.0h1M241.8 105.0h1M242.8 108.7h1M245.8 109.1h1M235.8 123.8h1M264.2 83.0h1M242.7 98.1h1M233.2 106.2h1M237.3 87.2h1M235.8 82.9h1M238.5 85.2h1M259.4 86.2h1M260.5 102.3h1M236.8 100.3h1M245.3 85.7h1M246.2 78.6h1M235.3 120.3h1M248.7 108.3h1M249.1 79.9h1M232.6 112.1h1M249.6 90.2h1M238.1 112.0h1M249.8 119.4h1M244.6 122.2h1M255.5 96.4h1M249.0 94.8h1M240.5 110.6h1M255.1 100.3h1M237.5 109.6h1M243.5 113.6h1M240.3 109.8h1M241.5 100.3h1M252.7 76.7h1M249.0 82.2h1M252.7 91.4h1M237.2 112.0h1M238.7 103.7h1M231.8 106.1h1M244.2 104.0h1M255.8 77.7h1M258.3 95.2h1M235.5 84.3h1M241.9 108.7h1M242.3 102.9h1M234.7 86.4h1M245.8 66.7h1M230.9 119.8h1M235.7 106.6h1M234.0 103.2h1M237.0 112.0h1M239.3 101.9h1M231.0 117.2h1M241.4 93.2h1M230.5 113.4h1M244.1 101.5h1M243.5 113.4h1M254.2 68.1h1M248.3 80.4h1M246.3 112.7h1M255.7 86.0h1M236.1 120.4h1M261.8 84.4h1M243.3 103.9h1M232.9 112.6h1M253.1 91.5h1M230.8 132.8h1M239.1 110.7h1M247.5 82.0h1M236.7 98.6h1M237.9 99.8h1M247.9 104.6h1M251.6 82.4h1M247.7 102.4h1M241.8 82.4h1M237.4 101.6h1M235.0 106.4h1M232.1 104.5h1M237.1 87.1h1M259.6 85.9h1M252.8 99.1h1M248.1 113.6h1M240.9 99.4h1M258.7 97.3h1M236.0 111.1h1M240.3 83.7h1M231.7 122.3h1M238.9 115.1h1M250.9 82.5h1M240.5 104.2h1M245.5 94.5h1M247.4 109.2h1M248.9 108.6h1M242.0 98.0h1M240.3 79.0h1M229.9 85.7h1M246.9 78.7h1M229.9 108.4h1M249.5 132.6h1M233.2 116.7h1M245.7 104.5h1M240.8 108.5h1M256.8 72.0h1M234.1 118.9h1M243.9 100.6h1M244.6 82.0h1M246.7 95.0h1M232.1 132.7h1M251.9 88.2h1M241.6 90.4h1M241.5 103.0h1M248.3 98.6h1M232.9 105.8h1M235.6 106.0h1M231.7 83.2h1M252.4 99.5h1M240.5 82.8h1M244.9 119.5h1M229.0 107.8h1M230.7 104.6h1M253.7 83.4h1M242.8 114.9h1M239.0 104.6h1M242.5 96.8h1M241.2 106.7h1M245.9 99.2h1M236.0 92.0h1M241.5 101.0h1M230.1 124.5h1M234.1 96.1h1M245.4 91.0h1M236.9 100.0h1M233.6 110.1h1M244.4 87.3h1M246.7 98.5h1M248.3 83.9h1M246.8 124.2h1M257.8 87.0h1M254.9 84.5h1M233.9 135.2h1M246.6 103.1h1M247.3 107.5h1M255.3 128.7h1M251.7 103.0h1M261.3 92.1h1M245.1 108.2h1M258.5 69.5h1M257.5 93.0h1M235.6 103.1h1M247.4 122.0h1M252.7 92.6h1M255.5 97.6h1M257.7 92.5h1M241.3 116.4h1M243.1 88.0h1M251.6 86.0h1M236.7 120.8h1M240.1 103.9h1M240.4 80.7h1M238.5 110.2h1M250.0 108.1h1M239.6 112.0h1M240.8 97.3h1M253.3 77.2h1M232.4 98.7h1M231.0 104.7h1M252.0 104.0h1M254.7 113.8h1M229.4 126.7h1M229.8 118.3h1M244.9 102.7h1M244.7 83.3h1M231.6 124.2h1M240.0 98.1h1M238.6 127.9h1M238.2 97.0h1M250.2 93.0h1M234.6 91.4h1M237.7 108.7h1M229.3 103.5h1M236.0 99.3h1M262.7 50.3h1M257.1 44.3h1M266.4 43.1h1M264.1 41.9h1M269.5 40.4h1M259.8 40.9h1M251.2 51.5h1M254.2 46.7h1M268.3 36.8h1M259.5 44.4h1M273.5 43.6h1M263.6 52.4h1M272.4 45.1h1M276.9 48.7h1M254.7 45.1h1M261.0 36.7h1M253.2 52.9h1M265.1 41.9h1M261.0 46.4h1M264.9 40.6h1M268.3 42.3h1M272.7 40.5h1M256.8 39.8h1M267.6 37.5h1M263.3 40.7h1M249.0 46.0h1M281.1 41.5h1M255.8 42.4h1M265.6 46.2h1M254.3 45.0h1M259.5 42.5h1M270.2 48.7h1M256.9 42.8h1M256.4 39.7h1M250.8 52.6h1M271.2 38.8h1M256.9 55.5h1M264.3 56.3h1M264.5 44.3h1M258.4 43.0h1M259.5 43.9h1M275.5 43.7h1M263.4 43.7h1M270.3 43.2h1M262.5 43.7h1M250.9 39.4h1M278.4 50.4h1M261.7 53.4h1M256.5 43.6h1M271.5 43.0h1M262.5 42.4h1M262.9 46.6h1M255.8 49.1h1M288.0 39.8h1M274.7 43.7h1M260.8 41.8h1M262.0 38.2h1M252.6 51.6h1M268.6 48.6h1M255.0 47.0h1M266.2 40.9h1M271.1 46.9h1M254.5 45.6h1M264.8 45.6h1M257.4 45.8h1M244.8 43.2h1M259.2 45.2h1M267.4 44.7h1M272.4 46.0h1M261.6 45.8h1M258.7 43.8h1M259.4 39.7h1M261.6 42.3h1M264.6 45.9h1M260.3 47.1h1M260.8 41.1h1M265.9 40.4h1M276.9 40.6h1M259.1 44.4h1M259.4 44.2h1M258.6 37.5h1M244.2 38.1h1M264.7 41.9h1M252.4 40.3h1M256.4 49.8h1M274.3 48.0h1M271.0 39.1h1M254.8 48.7h1M270.5 43.9h1M275.3 39.6h1M270.6 39.4h1M266.7 49.3h1M256.8 47.9h1M261.9 49.4h1M265.1 36.9h1M265.4 38.6h1M263.6 54.5h1M261.5 48.5h1M259.7 35.8h1M265.5 48.9h1M263.1 45.6h1M262.2 44.9h1M261.5 45.9h1M267.2 36.8h1M255.8 44.3h1M262.3 49.3h1M259.5 34.5h1M272.9 36.5h1M267.8 40.7h1M258.8 45.3h1M258.4 42.0h1M262.6 44.5h1M257.5 50.0h1M258.4 41.5h1M268.3 52.6h1M254.5 40.9h1M267.5 46.2h1M252.2 51.5h1M263.9 50.1h1M261.9 44.9h1M267.7 36.0h1M261.8 51.9h1M240.1 45.8h1M265.1 50.4h1M240.0 49.3h1M266.4 45.1h1M257.7 47.6h1M256.9 43.8h1M260.6 38.7h1M252.5 50.6h1M259.0 47.2h1M255.8 40.1h1M262.8 45.9h1M272.3 48.4h1M256.5 43.2h1M256.2 51.8h1M259.1 48.1h1M259.6 45.6h1M265.0 52.1h1M248.9 46.3h1M258.3 44.5h1M261.4 40.7h1M256.6 43.8h1M259.1 38.8h1M258.4 42.6h1M257.8 47.8h1M261.3 42.2h1M261.9 43.2h1M283.1 39.0h1M262.6 40.4h1M266.3 41.6h1M268.1 39.1h1M249.5 47.2h1M259.8 38.7h1M267.0 41.6h1M270.7 44.7h1M260.6 42.4h1M267.1 47.2h1M272.1 43.7h1M265.3 40.4h1M262.9 40.7h1M266.4 42.0h1M260.7 39.1h1M265.5 39.1h1M270.1 54.9h1M260.9 51.5h1M276.7 45.3h1M260.1 46.5h1M256.0 50.1h1M300.5 100.9h1M287.8 89.6h1M305.0 93.0h1M301.1 104.3h1M302.1 95.6h1M296.6 83.2h1M283.9 89.8h1M292.9 101.5h1M296.6 105.0h1M284.9 88.2h1M289.0 91.3h1M298.3 90.8h1M297.5 98.0h1M302.3 89.0h1M287.7 96.8h1M293.8 87.5h1M299.4 100.6h1M288.5 94.3h1M311.2 86.1h1M284.3 98.5h1M291.2 90.6h1M298.9 97.8h1M299.8 95.0h1M281.9 103.8h1M294.9 84.2h1M293.9 100.4h1M288.0 94.4h1M290.2 103.2h1M284.2 100.6h1M288.9 75.5h1M292.7 93.4h1M288.3 92.1h1M287.9 94.4h1M300.6 101.3h1M304.6 78.0h1M293.6 91.7h1M291.4 110.6h1M293.6 103.8h1M290.1 102.2h1M299.9 89.8h1M294.8 93.9h1M289.0 87.1h1M289.8 76.5h1M298.3 94.6h1M293.8 92.2h1M293.9 101.3h1M294.8 105.6h1M296.7 102.5h1M295.4 76.6h1M297.8 94.7h1M299.0 106.3h1M288.0 99.7h1M295.3 92.8h1M292.0 97.8h1M296.6 98.8h1M291.3 84.6h1M300.6 103.3h1M290.4 93.8h1M297.9 81.4h1M296.2 111.4h1M295.0 89.0h1M304.6 94.1h1M294.6 91.0h1M294.5 81.2h1M286.6 83.4h1M298.4 93.4h1M299.7 79.4h1M289.5 91.5h1M293.4 103.4h1M296.6 90.4h1M294.0 87.6h1M294.3 85.7h1M300.4 100.0h1M297.1 96.8h1M288.4 98.4h1M298.4 95.3h1M294.0 107.2h1M291.4 81.2h1M285.1 91.7h1M292.3 99.9h1M293.2 88.8h1M288.2 94.9h1M305.0 85.6h1M286.7 97.0h1M296.2 89.6h1M284.1 93.8h1M299.8 93.5h1M285.7 103.7h1M299.1 101.5h1M289.0 93.4h1M303.7 85.5h1M294.7 93.9h1M288.0 95.5h1M297.4 93.3h1M289.5 99.5h1M283.2 86.7h1M300.8 90.4h1M291.8 96.7h1M288.3 89.9h1M299.6 109.6h1M287.7 88.9h1M289.8 96.6h1M296.6 95.5h1M288.1 104.8h1M299.9 97.9h1M302.3 96.6h1M290.4 89.7h1M294.9 98.4h1M292.4 87.2h1M296.1 84.5h1M290.4 87.8h1M301.6 92.2h1M294.5 105.6h1M290.8 105.5h1M288.0 104.3h1M298.8 93.3h1M294.5 92.7h1M288.3 91.9h1M292.0 94.1h1M294.0 88.8h1M285.1 98.3h1M286.3 91.8h1M293.0 89.1h1M297.7 97.9h1M300.3 102.4h1M289.6 91.8h1M282.9 100.8h1M303.8 96.1h1M297.0 90.5h1M294.1 97.6h1M291.6 96.8h1M295.3 99.1h1M288.2 90.1h1M291.2 102.6h1M286.7 108.0h1M288.6 95.0h1M303.8 86.9h1M294.0 103.3h1M285.4 94.1h1M296.2 103.8h1M297.8 95.5h1M295.8 96.9h1M294.2 90.8h1M285.7 83.6h1M296.2 97.8h1M294.1 85.6h1M298.0 91.2h1M282.4 105.3h1M296.3 90.8h1M280.9 88.9h1M301.4 103.8h1M294.9 81.7h1M291.5 92.0h1M290.1 104.4h1M285.7 100.7h1M305.8 98.7h1M286.1 103.0h1M283.6 96.4h1M299.8 95.4h1M295.7 93.2h1M291.0 82.4h1M298.7 90.3h1M293.3 95.8h1M297.4 91.2h1M302.5 93.6h1M291.0 92.0h1M282.1 103.4h1M299.2 94.2h1M301.7 97.0h1M287.1 94.4h1M294.4 90.2h1M297.6 88.5h1M283.0 87.3h1M297.3 93.6h1M298.4 94.7h1M292.2 95.0h1M299.7 86.0h1M295.4 103.2h1M285.6 86.7h1M287.8 83.5h1M289.4 85.7h1M290.9 92.3h1M302.2 95.3h1M288.8 99.0h1M302.6 81.4h1M292.6 96.3h1M301.7 85.1h1M293.7 99.7h1M290.4 81.3h1M288.2 95.4h1M294.5 107.3h1M302.2 92.9h1M301.8 98.5h1M290.4 86.7h1M303.4 83.0h1" stroke="#7c8ae8" stroke-width="1" fill="none"/><path d="M238.3 111.5h1M238.0 106.4h1M245.1 104.8h1M241.5 100.9h1M233.9 104.4h1M239.5 109.2h1M237.3 102.4h1M243.7 104.9h1M233.6 99.0h1M238.1 107.2h1M235.7 112.9h1M233.6 104.6h1M236.4 116.5h1M235.7 100.2h1M237.7 114.9h1M239.1 99.7h1M243.3 92.0h1M238.3 115.7h1M238.7 107.2h1M233.8 102.4h1M232.3 113.7h1M239.5 91.8h1M244.5 95.0h1M234.6 114.2h1M236.5 98.6h1M230.8 122.3h1M235.3 114.6h1M229.5 119.5h1M237.7 107.3h1M230.6 106.6h1M231.4 99.4h1M242.3 102.0h1M248.7 94.0h1M240.6 102.9h1M232.4 101.8h1M246.3 94.9h1M231.9 104.6h1M246.4 94.7h1M236.0 115.7h1M245.7 90.3h1M237.9 101.0h1M240.0 112.3h1M251.1 81.5h1M240.9 107.8h1M239.9 109.0h1M237.0 96.3h1M233.3 113.1h1M242.6 99.2h1M237.2 92.3h1M237.4 99.8h1M239.8 105.0h1M233.0 112.0h1M234.4 114.6h1M232.4 110.4h1M236.1 101.8h1M240.0 94.7h1M242.7 99.1h1M232.8 112.5h1M233.0 110.6h1M244.7 111.2h1M243.0 111.8h1M234.2 98.6h1M231.4 124.4h1M232.9 122.0h1M243.9 98.0h1M236.1 106.0h1M237.8 102.3h1M234.2 108.3h1M240.1 94.6h1M234.6 99.5h1M229.2 107.4h1M240.1 108.1h1M237.1 101.5h1M239.0 99.5h1M240.7 102.8h1M229.6 95.2h1M236.0 116.8h1M247.1 110.9h1M234.7 105.6h1M246.5 94.8h1M247.9 91.6h1M240.3 108.2h1M232.9 110.0h1M234.8 108.8h1M239.1 97.9h1M237.2 101.4h1M229.8 92.0h1M237.9 107.0h1M237.9 115.6h1M244.4 106.2h1M244.7 99.1h1M232.8 103.7h1M235.1 105.6h1M237.0 102.0h1M243.7 77.9h1M240.8 94.9h1M241.0 109.0h1M232.8 102.2h1M238.9 101.4h1M230.4 121.2h1M230.5 111.4h1M241.2 102.0h1M246.1 112.1h1M237.1 100.4h1M238.4 102.9h1M241.1 120.3h1M236.1 105.8h1M239.9 111.6h1M245.4 108.7h1M248.2 102.7h1M239.1 106.7h1M235.5 107.9h1M231.3 110.8h1M244.1 96.3h1M246.6 97.6h1M246.0 100.2h1M238.9 111.5h1M234.4 106.3h1M252.1 100.7h1M241.4 116.4h1M237.8 96.7h1M240.7 103.7h1M238.0 101.3h1M232.9 114.9h1M244.8 100.2h1M245.4 102.4h1M233.8 112.5h1M243.6 104.7h1M240.8 105.0h1M247.5 108.7h1M229.0 121.7h1M249.1 86.6h1M231.1 119.3h1M229.3 114.4h1M246.2 107.2h1M242.7 103.0h1M243.0 97.7h1M234.1 111.3h1M238.2 101.8h1M233.8 109.3h1M236.1 104.9h1M244.1 107.9h1M239.1 102.6h1M228.6 111.5h1M235.8 100.2h1M235.2 99.3h1M238.2 103.8h1M240.4 96.5h1M237.5 108.4h1M245.4 108.4h1M234.7 105.8h1M238.7 108.5h1M241.9 104.8h1M242.9 121.2h1M245.3 90.9h1M233.7 114.6h1M230.2 96.8h1M231.8 101.6h1M245.7 104.6h1M235.8 93.7h1M247.5 96.5h1M238.7 108.9h1M242.8 92.6h1M235.6 103.9h1M233.6 91.3h1M239.7 92.0h1M234.9 94.2h1M231.7 110.8h1M234.5 95.0h1M237.8 99.0h1M241.7 94.8h1M239.2 100.9h1M243.8 90.5h1M246.3 109.7h1M241.2 106.0h1M235.9 111.1h1M229.2 122.6h1M229.0 106.6h1M237.1 118.4h1M233.3 98.3h1M242.4 89.6h1M237.5 108.4h1M240.0 113.4h1M235.2 94.2h1M243.0 95.9h1M240.3 101.3h1M235.4 99.6h1M231.3 110.4h1M239.1 109.2h1M239.8 117.9h1M232.9 108.5h1M242.7 100.6h1M232.1 105.2h1M247.3 98.7h1M247.7 91.8h1M242.6 104.2h1M240.8 97.1h1M248.6 107.2h1M237.3 114.1h1M241.4 95.1h1M240.5 99.8h1M236.9 101.5h1M237.9 105.2h1M252.1 101.4h1M232.9 120.1h1M242.1 107.2h1M245.6 98.6h1M237.3 96.7h1M238.2 121.8h1M238.9 93.6h1M246.1 96.6h1M231.8 125.8h1M238.9 115.2h1M232.1 108.5h1M230.8 116.3h1M239.3 95.7h1M239.5 124.1h1M248.4 92.4h1M230.7 106.4h1M233.7 118.8h1M238.8 92.7h1M236.8 104.4h1M239.1 108.1h1M243.8 87.5h1M246.1 101.0h1M236.2 106.8h1M237.1 117.7h1M233.1 107.6h1M234.6 102.5h1M232.5 112.3h1M243.2 93.1h1M233.9 97.6h1M237.8 124.0h1M229.8 104.6h1M240.2 107.2h1M235.1 100.9h1M245.3 101.1h1M238.0 100.6h1M235.1 103.9h1M238.8 106.7h1M240.9 109.5h1M246.2 83.9h1M242.9 104.2h1M239.6 99.5h1M240.3 111.0h1M242.7 101.4h1M237.4 112.6h1M240.5 98.5h1M249.9 105.0h1M232.9 120.8h1M239.4 108.0h1M233.2 102.0h1M229.8 114.8h1M234.5 103.0h1M239.3 120.5h1M233.9 111.1h1M233.3 107.9h1M236.9 104.0h1M235.5 97.6h1M240.3 120.9h1M241.0 107.3h1M245.2 97.2h1M231.5 101.2h1M235.6 119.5h1M243.2 101.1h1M228.6 110.4h1M234.3 101.5h1M241.8 91.4h1M239.4 111.3h1M235.5 100.4h1M249.6 103.0h1M231.9 113.9h1M243.6 101.8h1M243.8 98.5h1M229.6 120.5h1M230.2 107.5h1M236.7 115.3h1M245.2 111.8h1M231.7 97.0h1M247.0 100.9h1M232.9 102.0h1M239.6 88.3h1M229.5 101.3h1M247.5 99.3h1M230.5 105.0h1M239.4 106.3h1M240.6 107.4h1M240.2 105.5h1M235.3 100.5h1M235.9 105.1h1M236.7 99.5h1M244.1 93.9h1M242.9 102.3h1M244.0 97.9h1M247.7 91.6h1M242.3 101.7h1M232.4 108.4h1M240.3 112.7h1M247.2 106.3h1M248.2 105.5h1M234.8 98.7h1M246.7 92.2h1M243.9 96.2h1M237.4 107.9h1M232.1 110.7h1M231.9 115.3h1M248.0 107.3h1M245.4 90.5h1M240.7 97.6h1M239.5 101.9h1M236.1 109.4h1M233.8 117.6h1M232.1 104.8h1M238.9 109.1h1M237.2 111.4h1M247.1 104.1h1M233.0 113.2h1M246.6 104.5h1M242.4 104.7h1M229.4 115.1h1M243.7 91.3h1M243.8 86.4h1M229.9 103.5h1M241.8 100.6h1M247.1 89.6h1M230.8 103.7h1M241.8 107.8h1M246.4 102.0h1M241.4 98.1h1M241.3 100.7h1M239.9 119.4h1M235.0 99.6h1M240.9 102.6h1M248.5 100.5h1M240.3 90.8h1M231.5 120.2h1M240.9 103.2h1M231.3 112.6h1M242.1 105.2h1M248.5 88.4h1M241.9 96.2h1M233.2 103.6h1M233.2 95.1h1M239.0 104.4h1M245.0 105.7h1M238.0 106.0h1M234.8 94.6h1M237.1 107.5h1M238.5 95.6h1M243.1 99.6h1M232.6 116.6h1M242.0 105.1h1M239.0 97.2h1M246.1 98.5h1M242.1 102.4h1M234.2 116.0h1M237.1 108.1h1M236.3 104.7h1M234.6 113.3h1" stroke="#5878e2" stroke-width="1" fill="none"/><path d="M231.5 105.9h1M243.1 107.2h1M247.1 101.7h1M248.4 109.3h1M233.0 99.7h1M231.2 107.8h1M241.4 96.3h1M246.1 108.5h1M243.6 106.3h1M239.1 98.0h1M240.9 97.4h1M245.3 104.8h1M245.0 100.6h1M237.4 94.6h1M242.9 96.1h1M231.6 111.9h1M234.5 111.3h1M231.0 110.0h1M234.8 98.1h1M230.9 102.7h1M232.6 104.9h1M237.7 111.6h1M228.8 107.9h1M231.6 102.7h1M238.6 95.8h1M230.1 105.6h1M236.4 115.1h1M247.7 104.2h1M236.3 112.7h1M240.9 98.0h1M239.4 96.7h1M232.9 92.4h1M237.2 94.6h1M241.1 111.4h1M231.8 99.8h1M245.4 100.3h1M241.0 109.8h1M233.6 111.0h1M230.5 114.5h1M237.6 115.7h1M243.9 111.1h1M231.8 105.2h1M232.3 102.2h1M242.6 98.5h1M240.3 98.0h1M232.3 109.2h1M231.9 109.2h1M240.7 97.6h1M243.1 109.2h1M235.9 97.4h1M232.5 106.3h1M243.4 96.4h1M248.6 100.3h1M239.5 112.0h1M245.3 102.2h1M244.0 108.1h1M230.1 106.6h1M235.6 112.7h1M236.0 93.6h1M243.8 105.7h1M232.2 108.7h1M245.5 102.5h1M239.9 96.9h1M243.0 106.5h1M244.7 105.0h1M229.0 112.3h1M237.9 112.2h1M244.6 94.2h1M231.5 115.8h1M231.0 119.5h1M247.4 107.8h1M240.2 111.0h1M245.8 103.3h1M241.3 98.7h1M232.4 110.6h1M248.4 99.6h1M234.2 110.7h1M237.5 115.1h1M229.8 106.8h1M245.5 96.6h1M241.4 95.2h1M235.6 97.5h1M232.5 106.3h1M232.8 98.3h1M245.9 98.0h1M233.6 111.4h1M244.1 99.5h1M230.6 106.0h1M231.6 105.6h1M240.6 96.4h1M237.4 117.3h1M230.9 106.5h1M242.9 100.8h1M239.4 98.5h1M239.8 111.6h1M240.0 116.4h1M232.1 100.7h1M232.1 107.1h1M244.8 105.3h1M235.3 100.1h1M235.4 96.6h1M244.3 104.2h1M242.9 108.5h1M247.4 99.7h1M231.7 108.1h1M243.6 108.8h1M233.5 99.5h1M243.2 101.3h1M244.3 105.0h1M233.8 99.3h1M233.1 111.6h1M242.9 98.3h1M231.7 107.4h1M229.3 109.9h1M232.4 100.5h1M241.4 110.5h1M242.7 99.9h1M239.7 94.9h1M231.4 103.9h1M239.7 93.6h1M236.0 112.0h1M242.4 94.5h1M244.0 99.3h1M248.0 97.7h1M245.0 104.1h1M243.3 108.4h1M237.5 94.8h1M233.4 117.1h1M235.4 112.7h1M248.1 105.2h1M245.3 100.5h1M244.8 104.1h1M237.1 114.1h1M236.8 99.3h1M242.5 97.4h1M229.4 110.3h1M235.6 97.4h1M246.0 107.4h1M237.6 111.9h1M237.4 97.2h1M245.7 108.6h1M230.8 95.2h1M231.9 103.1h1M235.2 97.2h1M239.6 96.9h1M232.1 105.6h1M244.7 97.2h1M240.7 111.9h1M232.4 99.6h1M232.1 97.1h1M241.1 109.7h1M238.0 97.3h1M242.5 111.9h1M230.8 110.6h1M237.1 115.0h1M240.3 97.4h1M247.1 100.6h1M242.2 99.5h1M236.7 112.8h1M232.6 112.9h1M244.2 106.6h1M236.6 90.6h1M229.1 103.7h1M240.9 111.1h1M234.4 111.8h1M248.4 101.4h1M231.5 100.9h1M240.2 114.8h1M232.7 114.8h1M238.0 93.1h1M231.8 115.4h1M230.6 108.3h1M237.2 111.6h1M231.7 103.7h1M229.4 110.6h1M243.2 105.5h1M231.8 103.5h1M232.0 104.0h1M243.7 109.6h1M234.2 100.4h1M240.8 111.6h1M235.2 118.2h1M232.8 116.4h1M246.3 102.6h1M235.9 98.3h1M239.6 110.9h1M233.0 110.5h1M229.3 101.7h1M235.8 97.6h1M232.2 109.4h1M241.7 114.6h1M237.9 96.5h1M240.0 114.2h1M239.1 98.0h1M238.5 111.4h1M240.1 114.6h1M241.2 112.1h1M244.3 103.6h1M244.3 98.4h1M232.3 102.9h1M238.7 93.3h1M230.4 113.6h1M246.8 98.3h1M231.3 101.6h1M236.8 97.5h1M232.5 104.2h1M243.6 104.6h1M240.8 117.0h1M244.1 89.4h1M240.1 111.8h1M236.2 113.7h1M237.3 98.8h1M240.2 95.2h1M238.7 112.1h1M242.6 96.8h1M242.6 96.9h1M237.4 112.2h1M232.1 110.5h1M237.4 117.2h1M241.3 93.7h1M238.2 96.5h1M233.0 99.8h1M241.4 97.8h1M241.4 110.9h1" stroke="#4a84de" stroke-width="1" fill="none"/><path d="M233.5 105.0h1M241.6 106.2h1M238.4 101.2h1M243.0 104.0h1M235.3 108.2h1M240.4 99.0h1M238.7 108.7h1M234.9 109.8h1M240.8 106.6h1M239.2 108.6h1M242.2 102.0h1M235.3 103.5h1M241.5 106.8h1M240.1 101.9h1M234.9 101.3h1M239.1 110.5h1M240.1 101.6h1M242.4 104.5h1M240.6 106.3h1M241.0 105.4h1M242.7 102.3h1M240.4 108.3h1M233.6 105.1h1M238.8 100.5h1M236.7 102.3h1M234.7 105.5h1M240.0 100.3h1M232.6 106.5h1M241.2 106.7h1M240.7 107.7h1M235.8 103.4h1M240.8 105.1h1M238.4 109.4h1M233.3 106.7h1M241.9 106.3h1M239.1 109.9h1M239.2 98.7h1M240.6 102.6h1M233.6 102.9h1M239.4 99.0h1M241.0 102.6h1M238.7 99.6h1M236.8 109.3h1M240.4 99.6h1M233.0 106.4h1M241.3 100.2h1M233.7 103.1h1M242.2 106.5h1M236.9 100.9h1M242.1 106.5h1M240.7 99.9h1M240.0 108.7h1M240.8 100.9h1M241.6 107.2h1M241.1 103.8h1M233.8 108.3h1M239.2 101.1h1M239.1 100.0h1M240.2 107.4h1M237.4 111.0h1M233.0 106.4h1M241.0 103.3h1M234.9 105.0h1M241.4 106.3h1M233.4 107.3h1M241.0 99.9h1M241.8 106.4h1M238.0 101.5h1M234.6 103.7h1M240.9 103.6h1M241.0 105.6h1M237.8 110.0h1M239.9 107.4h1M241.4 99.6h1M235.1 104.2h1M239.8 101.7h1M240.0 109.7h1M240.1 108.7h1M236.5 108.7h1M234.7 103.9h1M239.0 98.7h1M234.1 105.0h1M235.3 104.4h1M232.7 106.1h1M234.9 106.3h1M241.4 107.1h1M241.1 105.8h1M241.4 105.4h1M234.8 105.7h1M241.0 104.3h1M235.8 102.4h1M242.8 102.5h1M235.3 109.1h1M233.3 104.0h1M241.6 101.6h1M236.4 108.6h1M235.1 105.5h1M240.3 109.0h1M238.8 109.9h1M242.6 102.9h1M234.6 106.8h1M234.8 102.5h1M241.8 102.0h1M240.8 101.9h1M243.1 104.0h1M237.4 109.5h1M241.1 103.5h1M234.7 107.1h1M239.2 108.0h1M241.7 107.2h1M237.0 101.3h1M239.2 100.6h1M241.0 107.1h1M238.6 109.2h1M236.4 102.4h1M233.9 106.1h1M235.1 108.6h1M236.2 101.7h1M234.3 109.3h1M241.5 105.7h1M236.2 102.8h1M236.4 110.0h1M237.8 99.7h1M234.8 110.0h1M238.9 109.1h1M235.5 102.3h1M236.3 102.8h1M237.1 109.8h1M241.3 105.3h1M243.1 104.8h1M241.1 99.1h1M238.3 98.9h1M240.6 106.6h1M237.4 110.9h1M240.3 100.9h1M240.7 106.1h1M239.2 99.7h1M242.6 103.3h1M242.3 104.1h1M234.5 106.8h1M240.9 104.4h1M240.5 109.1h1M242.6 104.7h1M237.9 109.5h1M237.4 109.6h1M234.0 105.0h1M238.5 100.1h1M237.3 109.1h1M242.0 103.7h1M234.6 108.9h1M240.6 101.3h1M235.7 110.6h1M239.6 110.1h1M236.3 109.3h1M235.9 102.8h1M238.8 109.4h1M235.4 108.2h1M241.0 104.0h1M240.7 102.1h1M237.1 109.9h1M240.4 106.4h1M242.3 100.5h1M233.9 108.6h1M239.6 108.9h1M238.5 98.8h1M234.7 101.7h1M234.5 107.0h1M238.5 108.6h1" stroke="#46b0cc" stroke-width="1" fill="none"/><path d="M236.6 106.0h1M239.4 103.2h1M239.0 103.7h1M238.8 104.8h1M236.5 104.1h1M239.2 103.9h1M238.0 105.6h1M237.2 104.6h1M237.2 107.5h1M235.2 105.9h1M237.6 107.4h1M238.5 106.9h1M237.4 103.1h1M236.2 103.8h1M237.6 104.7h1M239.8 103.4h1M237.1 104.8h1M239.0 102.1h1M240.7 103.0h1M238.9 106.2h1M238.6 104.4h1M238.5 107.4h1M239.9 104.8h1M236.4 104.5h1M237.6 104.0h1M239.7 102.1h1M238.1 102.2h1M235.4 105.6h1M239.9 104.3h1M239.4 105.4h1M236.6 107.1h1M237.7 103.6h1M238.9 105.3h1M237.5 107.4h1M239.9 103.6h1M236.8 108.0h1M239.5 104.2h1M237.5 102.9h1M240.1 105.9h1M237.4 102.0h1M236.6 104.5h1M238.5 107.2h1M238.6 104.9h1M238.0 102.0h1M238.0 103.0h1M239.0 105.2h1M237.4 107.7h1M235.1 106.5h1M236.9 102.4h1M240.3 104.3h1M237.9 103.4h1M240.2 105.8h1M238.7 104.5h1M239.0 101.8h1M235.7 107.1h1M235.4 105.8h1M239.0 101.7h1M239.7 102.8h1M237.4 108.1h1M237.6 105.9h1M235.6 105.3h1M235.4 107.0h1M238.4 104.7h1M238.4 104.1h1M239.0 102.3h1M239.4 103.4h1M239.8 104.6h1M236.5 108.0h1M240.0 102.8h1M239.6 105.5h1M240.7 104.0h1M236.2 106.5h1M239.2 104.1h1M236.4 107.5h1M237.0 108.2h1M236.6 103.8h1M236.1 106.0h1M238.8 105.7h1M236.4 103.8h1M239.5 104.0h1M237.0 102.7h1M238.9 102.6h1M236.1 104.3h1M239.3 102.3h1M239.0 107.6h1M238.3 107.2h1M237.2 102.9h1M237.7 102.5h1M239.5 105.8h1M238.4 105.9h1M239.4 103.7h1M235.7 104.0h1M236.3 106.6h1M235.2 105.5h1M237.7 107.2h1M236.4 103.1h1M238.8 105.1h1M236.0 107.0h1M237.2 107.1h1M236.3 107.7h1M238.2 103.4h1M239.5 103.9h1M240.3 106.1h1M240.5 103.0h1M236.8 108.2h1M235.8 106.6h1M239.6 104.7h1M237.6 105.4h1M240.0 104.9h1M239.9 102.2h1M237.4 108.2h1M238.2 107.0h1M239.1 103.6h1M238.9 104.6h1M240.4 103.6h1M235.6 104.7h1M240.3 104.8h1M236.9 105.1h1M240.6 104.1h1" stroke="#62cc80" stroke-width="1" fill="none"/><path d="M292.3 92.5h1M293.3 91.6h1M292.2 92.5h1M295.3 94.3h1M293.3 93.7h1M292.5 92.0h1M292.9 94.9h1M294.5 92.0h1M294.7 92.3h1M293.9 91.5h1M292.9 91.8h1M292.0 95.1h1M294.0 92.0h1M291.9 93.3h1M294.5 93.5h1M295.0 95.2h1M294.5 93.2h1M295.2 94.4h1M292.2 94.4h1M294.1 92.3h1M293.6 94.7h1M293.3 95.3h1M295.2 93.6h1M295.0 93.0h1M293.5 94.8h1M292.6 92.2h1M294.7 93.0h1M294.4 95.2h1M295.0 93.8h1M293.1 91.5h1M293.7 94.2h1M293.1 94.4h1M293.8 95.5h1M292.9 91.8h1M294.8 93.6h1M294.8 93.8h1M292.5 93.8h1M294.1 91.8h1M294.1 94.7h1M292.8 93.6h1M294.0 91.6h1M295.0 94.0h1M294.6 92.1h1M293.4 94.0h1M294.9 93.4h1M294.7 93.7h1M291.8 94.7h1M294.9 94.7h1M292.8 95.9h1M292.3 93.7h1M293.4 93.9h1M294.7 95.3h1M294.0 94.4h1M293.1 93.8h1M293.6 94.1h1M294.9 92.4h1M292.5 95.0h1M292.3 95.2h1M295.0 94.1h1M293.0 94.6h1M292.9 95.7h1M292.2 94.0h1M294.0 94.4h1M295.4 93.9h1M295.2 93.5h1M294.0 91.7h1M292.4 93.8h1M291.9 94.2h1M294.8 93.6h1M295.1 92.4h1M294.0 93.7h1M292.3 92.5h1M294.9 94.4h1M293.3 92.7h1M294.7 95.2h1M294.0 93.8h1M293.2 93.5h1M292.7 92.3h1M292.1 92.8h1M294.2 94.4h1M295.2 94.4h1M293.4 93.3h1M294.7 92.3h1M292.5 94.1h1M292.1 93.9h1M292.8 92.4h1M293.0 95.6h1M293.7 92.4h1M292.9 91.6h1M292.6 95.1h1M294.5 92.7h1M291.9 93.6h1M292.6 95.1h1M294.3 92.5h1M293.3 94.3h1M292.7 92.4h1M292.7 92.6h1" stroke="#d2dc30" stroke-width="1" fill="none"/><path d="M290.4 91.4h1M289.4 97.1h1M291.8 99.5h1M296.9 90.7h1M293.4 99.6h1M291.8 97.6h1M293.7 89.3h1M290.0 94.5h1M289.3 95.1h1M292.6 89.3h1M293.3 99.2h1M295.5 88.5h1M298.1 95.4h1M289.5 93.4h1M296.6 90.7h1M296.5 98.5h1M290.2 97.5h1M290.1 92.4h1M293.9 88.4h1M294.6 88.2h1M291.9 97.8h1M292.3 89.6h1M295.1 88.8h1M289.4 92.0h1M289.7 96.8h1M295.9 98.3h1M290.3 96.8h1M292.0 89.4h1M292.6 88.8h1M295.0 90.0h1M297.5 96.4h1M290.0 92.1h1M291.8 99.4h1M296.1 97.1h1M291.4 88.8h1M292.6 89.0h1M297.3 95.0h1M290.7 98.6h1M297.5 95.9h1M297.1 94.3h1M290.4 98.1h1M295.5 90.0h1M297.8 94.6h1M296.8 91.6h1M294.9 98.0h1M290.4 91.3h1M293.6 87.9h1M294.1 98.5h1M291.9 98.4h1M295.4 97.6h1M291.9 90.1h1M296.8 98.2h1M293.7 88.8h1M290.7 90.9h1M295.0 98.3h1M298.0 93.6h1M297.0 93.8h1M297.0 92.0h1M292.1 98.5h1M297.1 94.9h1M297.7 94.7h1M295.7 90.2h1M290.3 90.0h1M292.0 99.6h1M294.1 89.5h1M289.9 93.1h1M297.1 93.9h1M297.1 93.3h1M297.6 93.7h1M292.2 88.7h1M293.1 88.1h1M289.7 96.9h1M292.9 87.8h1M295.7 88.4h1M294.1 99.4h1M292.1 99.0h1M293.3 98.1h1M291.9 97.9h1M293.2 88.7h1M296.6 91.0h1M289.0 93.8h1M290.1 89.4h1M293.2 99.5h1M289.9 90.9h1M289.2 91.4h1M293.8 99.7h1M296.8 92.3h1M289.6 96.3h1M294.0 88.4h1M290.1 91.8h1M289.8 94.1h1M291.5 89.3h1M297.0 92.0h1M289.3 94.8h1M295.3 98.0h1M291.1 98.0h1M290.1 93.0h1M294.4 97.9h1M290.7 96.4h1M297.2 92.8h1M290.5 89.2h1M289.0 92.6h1M293.0 98.8h1M296.7 95.9h1M295.1 89.2h1M296.6 90.6h1M295.8 97.9h1M292.8 88.6h1M298.0 92.1h1M296.2 97.8h1M290.1 91.4h1M292.6 88.4h1M290.6 96.9h1M296.4 90.7h1M296.6 96.8h1M293.5 89.2h1M296.6 95.8h1M289.2 93.3h1M297.3 97.1h1M293.8 88.8h1M298.2 93.6h1M296.8 98.2h1M297.1 90.4h1M289.7 90.0h1M294.1 88.5h1M294.8 88.5h1M291.0 97.3h1M297.6 94.5h1M291.6 99.3h1M295.2 89.3h1M293.3 99.1h1M293.9 88.6h1M295.3 97.3h1M289.4 94.8h1M292.7 98.6h1M297.2 91.8h1M295.1 99.6h1M289.5 93.5h1M292.1 88.2h1M291.1 89.6h1M297.2 94.9h1M295.9 88.7h1M297.1 90.7h1M296.8 96.4h1M297.6 96.0h1M298.2 92.1h1M297.8 93.3h1M296.8 90.8h1M292.5 89.1h1M292.9 98.3h1M295.7 98.0h1M292.1 87.9h1M289.7 91.6h1M292.5 88.8h1M290.2 97.5h1M290.7 88.9h1M295.7 89.1h1M293.4 98.3h1M289.1 94.2h1M289.5 92.7h1M293.8 89.6h1M290.7 96.8h1M290.2 90.4h1M290.9 97.6h1" stroke="#38a8c8" stroke-width="1" fill="none"/><path d="M293.5 103.9h1M287.5 96.8h1M295.8 100.2h1M289.4 103.1h1M292.5 101.4h1M286.4 97.4h1M294.6 84.4h1M286.5 98.3h1M293.5 105.9h1M288.3 92.7h1M298.3 100.7h1M290.1 99.1h1M290.8 99.5h1M295.1 101.7h1M295.1 86.3h1M291.2 85.1h1M299.3 93.0h1M296.8 82.3h1M290.2 88.6h1M302.2 100.4h1M286.1 97.8h1M290.0 89.1h1M288.2 91.5h1M299.9 96.0h1M291.6 102.1h1M291.1 86.6h1M289.6 102.8h1M298.7 86.3h1M299.3 99.0h1M291.8 86.3h1M295.6 85.1h1M293.9 87.1h1M297.3 100.6h1M287.3 95.8h1M287.7 93.2h1M297.3 88.1h1M292.4 102.8h1M300.1 99.1h1M291.2 88.2h1M295.4 87.5h1M287.6 92.3h1M298.2 89.5h1M291.9 104.8h1M294.6 87.3h1M291.6 100.5h1M287.3 94.5h1M288.8 100.7h1M287.7 90.7h1M284.8 91.8h1M301.0 94.2h1M290.6 99.7h1M298.6 93.6h1M299.1 89.3h1M288.1 103.6h1M298.9 91.9h1M300.1 93.1h1M293.0 87.1h1M298.1 86.8h1M297.4 87.4h1M292.7 100.9h1M298.6 99.3h1M289.5 102.0h1M297.6 104.0h1M288.0 89.4h1M292.4 81.2h1M284.6 105.3h1M284.9 91.4h1M286.3 89.0h1M300.3 90.8h1M293.2 102.0h1M294.0 100.7h1M299.8 93.7h1M287.5 95.8h1M301.4 91.9h1M283.7 92.4h1M292.9 87.3h1M287.2 90.7h1M295.7 102.1h1M293.3 101.8h1M298.2 86.9h1M285.1 87.3h1M297.4 97.5h1M286.0 96.7h1M298.1 98.3h1M288.3 95.0h1M286.4 90.9h1M289.6 88.5h1M293.6 100.5h1M289.4 86.6h1M293.3 87.6h1M298.2 91.0h1M293.0 101.4h1M290.4 102.0h1M283.6 98.9h1M300.3 89.0h1M293.0 87.0h1M296.0 88.1h1M292.7 103.7h1M302.3 98.8h1M298.8 89.2h1M297.8 98.4h1M295.8 86.6h1M297.1 86.9h1M294.3 86.0h1M284.5 87.5h1M294.7 83.8h1M288.6 97.6h1M291.4 85.0h1M291.0 101.8h1M298.8 95.9h1M295.0 100.6h1M297.7 100.9h1M288.0 86.2h1M285.9 94.9h1M289.1 90.9h1M288.2 89.9h1M299.7 92.8h1M294.4 100.1h1M300.1 94.8h1M295.3 101.6h1M289.6 89.3h1M300.1 94.6h1M298.5 86.6h1M298.8 97.3h1M295.6 102.1h1M296.3 86.3h1M287.5 100.8h1M290.3 89.0h1M286.7 92.5h1M297.4 89.6h1M298.8 97.5h1M299.0 82.8h1M292.5 87.7h1M302.5 90.8h1M294.2 101.4h1M294.5 100.6h1M292.0 87.0h1M306.4 92.7h1M284.9 89.5h1M291.1 100.4h1M287.3 94.1h1M285.5 88.6h1M302.1 96.3h1M298.8 96.8h1M290.0 98.3h1M291.9 103.4h1M295.0 101.4h1M294.6 87.0h1M297.2 101.5h1M287.3 89.9h1M292.8 103.7h1M288.1 88.3h1M300.2 96.6h1M291.1 101.6h1M300.8 90.1h1M293.3 101.1h1M284.3 93.4h1M287.4 92.9h1M296.1 87.9h1M287.5 85.0h1M300.4 92.1h1M297.9 99.3h1M288.6 87.7h1M292.9 102.6h1M298.3 98.8h1M287.9 102.7h1M287.2 90.3h1M284.4 87.7h1M288.0 95.0h1M297.4 85.7h1M298.0 96.5h1M300.3 95.1h1M288.6 96.2h1M294.7 87.3h1M298.4 95.0h1M286.4 89.4h1M286.1 90.5h1M298.8 90.5h1M296.3 99.7h1M299.7 89.8h1M289.6 87.5h1M297.8 100.7h1M290.7 88.5h1M298.4 89.6h1M299.8 97.9h1M285.6 91.0h1M291.1 99.5h1M292.2 105.4h1M292.9 101.3h1M286.5 94.6h1M288.4 94.5h1M291.0 101.8h1M304.7 97.4h1M297.8 90.3h1M297.3 101.1h1M292.2 101.6h1M293.8 85.4h1M297.3 89.1h1M290.2 99.0h1M300.5 90.2h1M284.7 93.7h1M292.2 103.9h1M299.9 96.6h1M298.3 91.9h1M298.5 86.9h1M294.4 87.5h1M300.2 98.1h1M288.2 91.1h1M296.7 100.0h1M299.9 92.2h1" stroke="#3a68dc" stroke-width="1" fill="none"/><path d="M293.9 97.8h1M290.7 92.1h1M296.5 92.6h1M291.4 90.7h1M291.5 92.8h1M295.0 96.6h1M294.7 96.3h1M295.1 96.0h1M291.5 96.2h1M294.1 96.4h1M296.0 95.2h1M290.5 92.6h1M293.5 97.5h1M292.9 97.8h1M295.5 94.5h1M291.1 95.2h1M296.2 93.4h1M291.6 90.4h1M295.8 91.4h1M295.4 95.5h1M292.9 97.2h1M292.2 96.1h1M293.5 96.4h1M291.3 93.6h1M294.7 96.7h1M296.5 94.2h1M291.8 95.2h1M291.8 90.6h1M294.9 95.8h1M295.5 96.1h1M292.7 96.0h1M291.3 96.7h1M291.9 97.1h1M295.9 91.0h1M290.4 92.4h1M294.4 90.2h1M295.5 95.3h1M296.1 94.0h1M293.9 91.3h1M294.7 91.8h1M292.3 96.9h1M295.8 96.6h1M295.9 93.0h1M290.6 93.1h1M291.1 91.7h1M290.7 94.6h1M291.8 91.9h1M291.3 94.0h1M296.8 94.0h1M292.1 97.1h1M296.1 92.7h1M290.4 92.3h1M296.0 92.6h1M292.4 90.0h1M290.8 93.1h1M291.7 92.7h1M291.2 95.2h1M296.6 93.5h1M292.5 90.1h1M294.1 91.1h1M292.3 96.6h1M294.4 97.7h1M291.9 91.6h1M296.7 92.8h1M296.2 93.9h1M291.4 91.0h1M291.8 97.2h1M291.0 93.5h1M293.5 90.6h1M292.1 97.4h1M293.8 89.8h1M291.3 95.9h1M294.8 96.8h1M293.3 97.1h1M291.5 96.8h1M296.1 93.9h1M295.8 96.4h1M295.0 97.4h1M292.3 91.0h1M294.1 91.1h1M295.4 96.5h1M293.5 90.8h1M291.4 93.2h1M293.6 96.3h1M296.4 95.7h1M295.6 95.4h1M290.4 93.1h1M293.7 90.7h1M294.3 90.5h1M292.9 97.8h1M295.0 90.3h1M291.6 96.4h1M295.5 91.9h1M296.0 91.2h1M293.4 96.3h1M294.8 96.6h1M291.6 94.3h1M294.6 97.1h1M295.7 92.4h1M295.3 91.6h1M296.7 93.1h1M290.6 95.1h1M296.1 94.9h1M295.3 95.9h1M296.2 93.2h1M295.4 95.8h1M295.6 95.9h1M291.2 92.2h1M292.1 91.7h1M290.8 91.9h1M291.5 91.2h1M291.1 93.2h1M291.9 96.5h1M295.9 92.5h1M292.1 90.2h1M294.1 97.1h1M296.8 93.9h1M294.7 90.1h1M291.5 92.5h1M292.5 96.0h1M292.9 91.2h1M292.9 90.7h1M291.3 93.4h1M296.7 94.4h1M293.4 90.3h1M293.4 96.9h1M292.0 90.3h1M296.3 93.1h1M295.8 93.3h1" stroke="#62c860" stroke-width="1" fill="none"/>
</g>
<g filter="url(#bl)">
<path d="M152.1 230.0h1M153.2 228.4h1M155.7 221.3h1M159.0 232.3h1M153.7 235.6h1M149.3 226.6h1M150.8 217.1h1M154.3 223.2h1M147.8 231.1h1M150.2 224.2h1M152.5 232.4h1M152.4 231.2h1M155.9 232.7h1M148.5 220.4h1M151.2 223.2h1M148.5 219.7h1M148.3 223.6h1M147.6 232.1h1M150.8 232.7h1M151.7 221.8h1M154.4 218.8h1M147.2 231.2h1M149.7 223.8h1M154.6 224.0h1M153.1 229.4h1M154.3 231.5h1M153.1 227.4h1M153.6 225.1h1M150.1 228.9h1M155.7 224.9h1M147.5 227.4h1M156.3 233.3h1M150.9 212.4h1M152.7 232.2h1M151.7 225.3h1M152.2 223.3h1M150.5 239.6h1M151.1 230.1h1M149.5 216.0h1M150.7 232.7h1M152.7 223.9h1M148.9 224.0h1M151.3 225.1h1M146.9 221.8h1M152.2 226.0h1M153.9 229.2h1M151.4 222.3h1M145.6 221.4h1M159.7 218.8h1M147.9 222.3h1M149.3 230.4h1M152.0 222.6h1M155.9 222.9h1M152.2 220.2h1M153.9 221.8h1M151.4 222.5h1M153.6 235.8h1M155.6 222.0h1M154.0 224.9h1M153.8 224.0h1M151.5 225.4h1M153.8 217.8h1M148.3 228.9h1M156.0 216.5h1M151.2 230.8h1M156.6 225.8h1M153.0 218.0h1M153.6 221.8h1M148.1 218.9h1M151.5 222.2h1M148.7 230.6h1M155.8 230.2h1M153.3 227.0h1M152.8 235.0h1M149.3 231.0h1M157.2 225.9h1M147.9 221.8h1M154.1 224.9h1M151.0 228.8h1M152.3 223.6h1M150.6 223.9h1M155.9 224.9h1M152.9 225.7h1M151.9 233.7h1M151.6 215.3h1M150.8 226.7h1M153.4 222.5h1M148.2 216.3h1M150.4 225.2h1M150.6 221.1h1M147.6 220.7h1M149.9 228.4h1M149.3 222.4h1M146.9 228.1h1M151.6 214.2h1M153.5 234.7h1M149.0 227.1h1M154.1 226.6h1M155.2 232.4h1M147.2 229.1h1M153.2 223.9h1M155.1 225.4h1M151.3 226.7h1M155.2 227.2h1M154.9 230.7h1M149.8 223.3h1M148.5 219.3h1M149.4 219.2h1M150.7 218.5h1" stroke="#7c8ae8" stroke-width="1" fill="none"/><path d="M152.5 222.6h1M153.3 231.9h1M149.6 223.1h1M148.3 220.7h1M149.0 219.7h1M152.9 228.4h1M152.1 225.5h1M149.1 227.3h1M149.2 226.4h1M151.5 225.3h1M149.3 228.0h1M151.9 222.3h1M150.8 226.4h1M153.2 219.6h1M147.6 223.3h1M153.1 223.8h1M154.0 231.3h1M151.4 235.9h1M150.6 221.5h1M152.1 230.7h1M154.7 226.4h1M153.3 228.8h1M149.0 223.1h1M150.1 226.5h1M154.4 222.9h1M149.1 226.5h1M156.0 233.2h1M149.9 222.5h1M154.2 221.8h1M150.7 231.4h1M151.8 222.0h1M148.7 224.5h1M146.6 220.9h1M145.7 226.6h1M145.4 219.4h1M151.8 215.4h1M149.0 233.8h1M147.0 224.9h1M156.3 233.8h1M152.6 222.0h1M152.4 227.3h1M150.1 224.1h1M152.7 223.0h1M150.7 225.0h1M150.3 221.7h1M152.0 229.4h1M151.9 231.4h1M150.1 220.5h1M151.1 230.6h1M151.2 227.4h1M154.1 228.1h1M152.4 227.2h1M150.7 221.2h1M152.5 232.2h1M150.6 219.2h1M151.5 222.4h1M151.0 218.8h1M148.5 231.0h1M153.6 232.0h1M149.5 219.2h1M148.3 234.1h1M146.0 222.6h1M151.0 234.5h1M155.9 229.5h1M155.1 229.4h1M155.2 224.2h1M154.6 235.0h1M150.7 224.4h1M144.7 228.2h1M153.8 228.5h1M153.8 226.0h1M151.4 227.7h1M148.8 219.5h1M151.6 231.9h1M149.2 230.1h1M150.7 231.5h1M149.5 222.4h1M153.9 229.8h1M147.0 213.8h1M148.3 225.3h1M153.2 223.0h1M155.3 229.7h1M154.0 224.9h1M150.3 230.3h1M149.9 219.2h1M151.7 229.5h1M152.5 226.6h1M153.5 235.5h1M150.5 220.3h1M147.0 217.0h1M153.2 233.6h1" stroke="#a2aaf0" stroke-width="1" fill="none"/><path d="M149.1 243.0h1M151.6 222.1h1M145.0 224.4h1M154.1 227.7h1M149.5 233.2h1M154.8 222.6h1M159.0 229.0h1M146.1 220.8h1M145.6 234.7h1M153.9 224.5h1M153.4 225.8h1M152.1 237.9h1" stroke="#b4b8f2" stroke-width="1" fill="none"/><path d="M154.5 229.6h1M149.5 228.4h1M154.4 227.1h1M156.5 227.3h1M154.4 227.6h1M154.0 230.6h1M151.0 225.5h1M153.1 229.1h1M151.5 228.3h1M152.9 227.3h1M149.4 228.2h1M152.6 229.6h1M151.1 226.4h1M150.5 227.9h1" stroke="#3a4a78" stroke-width="1" fill="none"/>
<path d="M284.3 187.4h1M279.7 180.4h1M285.4 183.3h1M282.2 188.1h1M279.9 194.4h1M283.4 178.4h1M293.0 202.4h1M278.0 181.7h1M288.4 195.1h1M288.5 196.0h1M279.4 175.8h1M288.9 190.3h1M281.5 168.6h1M290.5 198.0h1M288.6 183.5h1M286.6 184.4h1M290.2 197.5h1M280.1 177.1h1M281.3 185.1h1M283.6 189.0h1M283.3 187.4h1M286.2 200.0h1M277.6 176.8h1M285.1 184.9h1M282.2 180.7h1M286.7 191.7h1M287.5 196.3h1M286.9 190.1h1M281.3 192.0h1M280.2 187.0h1M279.8 176.0h1M285.3 181.0h1M279.3 185.8h1M293.0 202.5h1M282.1 180.2h1M279.0 180.1h1M283.4 183.6h1M285.5 182.1h1M282.0 176.5h1M286.6 183.3h1M284.6 176.6h1M278.4 187.7h1M289.7 192.9h1M287.0 193.4h1M278.5 180.9h1M281.8 180.7h1M289.0 198.8h1M280.8 182.9h1M285.1 182.8h1M284.5 196.7h1M278.5 192.9h1M280.1 185.4h1M290.1 194.2h1M293.8 199.4h1M285.4 184.8h1M292.3 203.3h1M277.7 173.3h1M286.0 182.4h1M284.2 186.3h1M279.5 190.7h1M285.3 181.4h1M281.6 177.2h1M282.4 186.0h1M289.7 184.0h1M291.9 191.5h1M287.0 185.2h1M277.4 185.8h1M282.2 174.3h1M286.3 182.6h1M282.2 177.1h1M281.0 187.2h1M292.5 189.5h1M291.8 199.7h1M280.2 183.2h1M289.9 202.5h1M287.9 197.5h1M288.7 192.3h1M285.2 179.6h1M279.7 189.9h1M280.9 179.4h1M291.9 196.2h1M290.4 193.4h1M287.6 188.4h1M281.1 181.5h1M290.4 189.2h1M279.3 181.9h1M283.0 190.0h1M285.8 183.5h1M285.8 195.1h1M279.2 182.0h1M279.6 179.6h1M283.0 189.2h1M283.2 194.8h1M281.5 192.5h1M287.0 188.3h1M278.0 181.9h1M280.6 180.7h1M286.8 182.6h1M278.3 174.8h1M284.2 187.9h1M280.7 174.5h1M279.2 182.2h1M281.9 183.3h1M287.9 184.5h1M288.6 192.3h1M286.3 199.1h1M282.9 195.7h1M286.4 183.7h1M280.4 180.6h1M282.0 187.7h1M289.6 192.3h1M279.6 172.0h1M285.1 184.5h1M288.9 190.4h1M287.9 196.0h1M293.3 200.9h1M273.6 180.1h1M282.6 189.7h1M289.1 186.9h1M285.8 190.7h1M277.1 180.7h1M287.8 190.0h1M285.7 191.1h1M286.2 194.3h1M281.9 192.2h1M282.9 192.6h1M279.3 188.6h1M292.1 187.5h1M289.6 196.5h1M286.1 190.3h1M287.3 186.0h1M287.3 183.7h1M286.3 191.4h1M286.7 190.1h1M292.2 207.6h1M279.4 197.3h1M277.7 178.0h1M291.3 188.4h1M285.1 184.9h1M278.2 179.9h1M290.0 202.3h1M286.3 197.5h1M282.3 187.9h1M291.4 198.2h1M288.3 184.1h1M279.5 180.7h1M286.1 186.1h1M286.3 188.1h1M294.9 200.5h1M286.6 192.6h1M294.2 199.6h1M286.0 182.6h1M286.2 185.1h1M285.7 193.6h1M285.1 188.6h1M284.4 183.9h1M283.4 189.6h1M289.1 195.2h1M285.4 202.4h1M283.1 193.2h1M290.1 197.7h1M287.3 190.8h1M291.8 192.7h1M285.1 184.3h1M288.3 195.3h1M286.2 197.0h1M278.5 183.1h1M282.8 183.9h1M283.6 183.3h1M284.3 184.6h1M284.5 188.4h1M282.3 182.1h1M282.5 187.5h1M287.5 190.7h1M286.3 177.9h1M277.9 177.4h1M285.0 185.6h1M285.6 185.3h1M281.6 182.2h1M283.1 175.0h1M283.9 171.1h1M292.5 200.2h1M280.4 171.1h1M287.9 187.3h1M285.8 196.3h1M280.6 187.7h1M284.9 178.8h1" stroke="#7c8ae8" stroke-width="1" fill="none"/><path d="M286.2 201.3h1M294.2 199.2h1M285.3 192.4h1M282.4 180.2h1M284.1 187.1h1M289.5 198.4h1M289.0 198.6h1M288.5 197.3h1M280.1 193.9h1M284.0 191.5h1M278.3 177.9h1M286.9 189.7h1M277.3 182.9h1M285.5 182.3h1M283.2 188.6h1M282.7 182.3h1M281.1 187.4h1M279.1 182.5h1M281.5 178.8h1M278.9 171.7h1M277.7 178.9h1M287.5 185.8h1M283.8 188.3h1M282.5 186.6h1M284.3 187.8h1M279.3 188.3h1M282.6 179.3h1M285.3 190.3h1M287.7 197.6h1M284.8 187.6h1M282.6 175.1h1M285.7 182.0h1M277.6 183.1h1M278.1 175.0h1M283.4 192.8h1M280.6 188.9h1M285.2 178.1h1M283.3 190.8h1M288.2 197.3h1M285.5 190.4h1M282.6 188.1h1M282.3 185.1h1M288.3 187.0h1M292.7 196.2h1M286.1 194.2h1M292.7 198.9h1M295.0 196.0h1M284.7 185.5h1M278.5 185.2h1M278.2 181.2h1M278.1 175.1h1M280.7 187.2h1M282.3 188.3h1M282.6 183.0h1M281.7 189.3h1M282.3 189.0h1M293.6 196.1h1M293.4 199.9h1M282.6 192.6h1M293.4 192.8h1M281.5 190.6h1M285.8 186.5h1M283.7 184.0h1M280.3 183.5h1M291.0 189.9h1M282.1 196.2h1M280.4 178.9h1M287.3 181.9h1M292.9 199.9h1M279.3 180.5h1M289.7 184.2h1M277.3 182.7h1M284.3 191.5h1M292.0 200.5h1M277.8 175.9h1M286.0 196.3h1M277.1 182.4h1M288.6 187.7h1M282.4 185.4h1M285.3 182.7h1M279.7 178.6h1M283.2 183.3h1M283.6 194.3h1M280.8 185.0h1M292.9 188.9h1M279.4 187.5h1M286.6 201.3h1M285.7 191.2h1M290.8 193.0h1M287.4 187.7h1M282.3 189.9h1M291.4 191.4h1M286.7 182.2h1M291.9 202.8h1M286.7 197.0h1M282.5 184.6h1M284.0 175.6h1M287.7 194.9h1M288.5 193.5h1M280.0 186.9h1M294.1 197.4h1M284.5 189.5h1M281.4 175.4h1M279.6 187.1h1M278.1 183.7h1M286.1 198.1h1M281.7 179.5h1M279.6 186.9h1M283.3 181.3h1M279.5 185.7h1M283.9 184.2h1M277.8 173.2h1M287.0 195.8h1M281.3 191.8h1M282.3 189.5h1M292.8 198.1h1M286.3 185.3h1M282.9 181.3h1M284.7 200.4h1M280.5 183.8h1M271.3 160.4h1M292.6 196.5h1M279.8 177.1h1M288.9 186.1h1M288.4 184.4h1M289.3 192.3h1M281.2 188.7h1M283.7 186.0h1M288.2 186.6h1M281.6 189.7h1M285.0 200.4h1M284.4 191.4h1M279.2 187.8h1M281.3 183.1h1M285.6 194.7h1M278.0 175.3h1M287.0 185.3h1M287.6 196.9h1M291.1 195.8h1M287.0 188.3h1M278.8 188.7h1M283.2 195.5h1" stroke="#a2aaf0" stroke-width="1" fill="none"/><path d="M291.7 198.6h1M298.9 196.5h1M293.4 197.8h1M290.0 170.7h1M300.0 200.9h1M298.4 195.4h1M283.2 181.7h1M270.0 155.2h1M288.4 193.1h1M280.1 189.3h1M291.6 192.5h1M290.5 188.6h1M262.6 179.7h1M286.3 204.6h1" stroke="#b4b8f2" stroke-width="1" fill="none"/>
<path d="M389.6 175.8h1M391.4 184.7h1M396.6 178.4h1M395.0 178.2h1M393.1 181.2h1M407.7 174.5h1M411.3 175.8h1M408.0 184.3h1M405.0 176.3h1M402.9 180.3h1M399.9 181.4h1M395.2 179.2h1M403.9 178.7h1M395.5 175.8h1M387.2 177.3h1M401.1 172.9h1M400.1 179.1h1M402.9 174.9h1M407.8 175.8h1M398.0 174.6h1M401.1 178.1h1M408.4 175.1h1M387.2 171.7h1M408.5 174.8h1M388.1 180.3h1M396.4 173.2h1M391.4 182.9h1M402.9 179.4h1M387.9 173.5h1M402.5 173.6h1M397.2 172.1h1M400.3 181.5h1M403.5 176.5h1M399.3 179.9h1M395.7 176.4h1M394.6 177.8h1M396.7 187.5h1M402.8 182.2h1M392.5 172.2h1M396.6 184.6h1M389.8 182.0h1M396.9 175.0h1M405.8 176.5h1M390.6 184.6h1M400.4 186.9h1M398.2 179.0h1M406.6 180.7h1M404.0 184.0h1M403.6 182.1h1M399.9 177.5h1M397.6 179.2h1M395.0 176.9h1M389.2 188.4h1M390.7 170.4h1M402.1 180.4h1M394.1 177.8h1M407.8 178.6h1M406.5 176.9h1M408.0 184.3h1M389.4 181.2h1M407.3 175.9h1M394.8 180.2h1M405.6 177.9h1M396.1 173.2h1M395.1 179.4h1M400.8 193.9h1M390.4 176.6h1M397.2 182.4h1M394.1 178.7h1M403.6 177.1h1M398.3 177.9h1M396.2 181.6h1M399.2 177.0h1M388.1 177.9h1M404.2 182.5h1M401.7 177.9h1M395.9 178.8h1M408.2 175.5h1M403.4 174.9h1M393.6 178.6h1M388.9 173.9h1M390.0 175.1h1M407.8 176.0h1M389.1 174.9h1M405.1 175.4h1M409.4 182.9h1M403.2 177.8h1M389.6 174.9h1M399.1 180.4h1M398.5 178.9h1M402.9 180.2h1M397.4 180.7h1M404.9 180.9h1M389.1 183.5h1M400.0 182.0h1M399.3 174.7h1M397.7 182.8h1M403.0 185.6h1M404.2 176.7h1M388.4 181.9h1M398.7 179.4h1M393.9 176.1h1M401.9 183.5h1M402.6 182.0h1M395.3 182.9h1M408.0 175.9h1M398.3 178.8h1M392.2 177.3h1M398.4 171.3h1M401.8 178.4h1M388.7 176.8h1M394.1 176.6h1M392.4 183.9h1M391.7 181.2h1M398.9 177.8h1M398.3 184.9h1M407.6 182.0h1M396.1 170.2h1M396.8 176.0h1M413.3 170.9h1M401.4 171.1h1M383.4 175.1h1M405.1 177.2h1M403.3 183.4h1M396.8 176.4h1M398.1 179.9h1M396.8 174.6h1M400.4 176.8h1M409.0 176.1h1M401.6 173.4h1M393.0 177.9h1M401.2 179.3h1M390.1 176.4h1M403.3 183.0h1M397.3 175.5h1M403.7 178.4h1M409.5 178.2h1M397.1 179.0h1M409.7 174.5h1M392.2 178.9h1M400.9 179.7h1M412.2 180.4h1M402.2 175.0h1M396.5 183.2h1M411.1 177.1h1M394.2 182.0h1M408.5 174.8h1M408.4 176.5h1M395.4 182.5h1M404.2 180.2h1M407.5 181.8h1M396.9 177.9h1M396.6 183.2h1M390.2 180.5h1M409.6 180.4h1M395.5 175.9h1M387.5 179.9h1M392.4 182.0h1M398.4 171.7h1M393.2 175.1h1M391.4 179.5h1M388.3 176.5h1M407.1 178.1h1M388.3 176.9h1M410.0 174.8h1M400.7 175.5h1M406.5 174.3h1M394.8 176.0h1M392.9 177.1h1M399.4 180.3h1M397.1 179.5h1M410.0 178.1h1M399.0 181.2h1M404.9 180.1h1M394.8 177.7h1M399.3 175.0h1M404.5 175.0h1M400.7 180.1h1M393.9 181.1h1M397.2 180.3h1M404.8 184.7h1M407.5 177.1h1M396.3 180.8h1M400.4 175.9h1M390.8 173.4h1M401.4 180.7h1" stroke="#7c8ae8" stroke-width="1" fill="none"/><path d="M395.9 182.1h1M402.1 177.9h1M403.8 177.8h1M409.4 177.1h1M397.6 178.8h1M396.0 174.5h1M405.4 183.4h1M409.4 177.7h1M400.8 180.6h1M401.2 181.0h1M400.8 182.5h1M400.4 184.6h1M402.8 178.4h1M411.5 178.0h1M408.2 179.4h1M408.0 173.7h1M396.7 182.2h1M393.2 179.6h1M402.9 180.3h1M397.7 179.7h1M396.8 173.7h1M398.7 179.7h1M406.7 186.6h1M400.4 184.0h1M398.8 180.7h1M406.4 176.2h1M395.7 180.3h1M402.7 183.0h1M400.0 183.0h1M398.9 186.1h1M399.3 177.3h1M397.7 179.4h1M390.0 174.6h1M393.7 179.3h1M396.2 180.5h1M402.4 182.0h1M396.3 179.6h1M397.6 183.7h1M392.1 173.2h1M396.5 181.3h1M399.6 177.0h1M388.1 168.3h1M397.8 176.7h1M407.2 175.1h1M408.0 172.8h1M405.3 176.9h1M404.9 180.6h1M400.5 178.1h1M406.2 179.4h1M391.8 178.1h1M401.8 175.5h1M404.5 179.0h1M410.8 181.6h1M411.3 180.0h1M400.9 175.0h1M400.3 176.1h1M401.6 179.4h1M389.5 178.4h1M392.5 172.3h1M395.3 175.9h1M396.5 180.4h1M400.9 180.5h1M389.5 178.9h1M402.6 179.5h1M405.0 180.8h1M392.3 175.6h1M392.6 175.4h1M404.6 175.4h1M390.9 179.0h1M404.1 178.0h1M390.4 177.8h1M398.6 179.2h1M408.1 181.6h1M401.3 183.4h1M409.1 173.5h1M405.7 172.0h1M401.9 186.1h1M399.8 172.5h1M401.8 177.1h1M405.8 175.4h1M404.9 176.9h1M404.3 178.1h1M403.0 175.0h1M387.3 171.4h1M404.9 175.3h1M397.6 175.3h1M395.1 174.8h1M411.3 177.6h1M398.6 177.1h1M395.6 178.4h1M392.9 173.5h1M402.3 182.9h1M389.1 182.7h1M387.4 176.8h1M420.3 180.8h1M405.5 175.7h1M409.0 173.0h1M387.1 183.0h1M397.1 175.3h1M396.3 177.6h1M403.7 182.3h1M392.1 179.2h1M394.4 177.0h1M406.3 181.3h1M394.0 174.9h1M401.0 184.2h1M396.8 172.9h1M393.3 179.8h1M402.6 180.3h1M395.3 175.2h1M393.0 183.3h1M389.7 173.6h1M398.1 179.8h1M394.2 176.6h1M405.2 175.3h1M389.7 178.0h1M394.7 184.1h1M399.7 178.9h1M410.0 172.8h1M405.5 179.7h1M395.3 177.4h1M403.6 175.7h1M405.9 177.0h1M398.2 176.2h1M405.3 180.4h1M392.8 185.2h1M410.9 177.6h1M396.5 176.1h1M388.9 175.4h1M405.1 178.0h1M404.1 174.1h1M403.1 175.1h1M400.5 181.3h1M390.3 174.6h1M397.7 178.2h1M408.1 178.2h1M408.1 173.8h1M392.6 183.2h1M394.7 180.4h1M388.0 171.1h1M403.4 184.1h1M395.3 173.8h1M395.3 174.3h1M387.7 179.8h1M401.6 178.9h1M403.5 194.0h1M395.7 180.3h1M416.1 176.3h1M391.5 179.6h1M392.2 185.0h1M392.8 175.8h1M393.4 185.6h1M408.9 178.0h1M397.6 174.9h1M403.3 179.3h1M391.2 189.0h1M399.6 176.0h1M397.4 172.8h1M401.5 181.6h1M389.7 182.7h1" stroke="#a2aaf0" stroke-width="1" fill="none"/><path d="M404.9 180.1h1M391.1 170.4h1M400.7 189.6h1M390.3 183.3h1M393.5 182.8h1M388.6 160.4h1M385.3 178.9h1M390.3 180.6h1M395.7 168.8h1M406.3 185.7h1M410.4 189.7h1M421.2 182.5h1M417.9 187.0h1M402.3 190.2h1M390.2 162.6h1M401.9 177.7h1M394.3 172.7h1M403.6 188.7h1M399.2 180.4h1M392.3 171.5h1M407.1 174.9h1M397.1 196.6h1" stroke="#b4b8f2" stroke-width="1" fill="none"/>
</g>
<rect class="box" x="228.3" y="23.3" width="123" height="115.2"/>
<rect class="box" x="87.7" y="152.9" width="122.4" height="115.3"/>
<rect class="box" x="227.4" y="152.9" width="122.8" height="115.3"/>
<rect class="box" x="365.4" y="153.2" width="122.5" height="114.7"/>
<rect class="gate" x="250" y="34.6" width="27" height="19.2"/>
<rect class="gate" x="283.3" y="41" width="21" height="34.4"/>
<rect class="gate" x="283.3" y="82.8" width="20.5" height="25.5"/>
<rect class="gate" x="141" y="210.8" width="20.7" height="26.1"/>
<rect class="gate" x="275.8" y="169.6" width="21.2" height="34.8"/>
<rect class="gate" x="385.8" y="168.7" width="27.5" height="19.2"/>
<path class="arr" d="M215.8 133V24.5M209.5 32.6L215.8 23.8L222.2 32.6"/>
<path class="arr" d="M80.3 265.8V157.5M74.3 166.6L80.3 156.9L86.2 166.4"/>
<path class="arr" d="M92.7 275.6H483M472.7 269.8L483.3 275.6L472.7 281.4"/>
</g>
<g id="panelB">
<text class="big" x="3.3" y="341.3">B</text>
<path class="den" d="M54.6 471.5V400.0H74.4V471.5M94.2 471.5V411.0H114.0V471.5M133.8 471.5V413.5H153.6V471.5M173.4 471.5V397.5H193.2V471.5M104.1 411.0V397.5H143.7V413.5M123.9 397.5V376.5H183.3V397.5M64.5 400.0V356.0H153.6V376.5M213.0 471.5V397.5H232.8V471.5M252.6 471.5V409.5H272.4V471.5M292.2 471.5V410.5H312.0V471.5M262.5 409.5V394.0H302.1V410.5M222.9 397.5V376.5H282.3V394.0M331.8 471.5V403.0H351.6V471.5M371.4 471.5V401.0H391.2V471.5M341.7 403.0V386.0H381.3V401.0M252.6 376.5V368.0H361.5V386.0M411.0 471.5V399.0H430.8V471.5M450.6 471.5V411.5H470.4V471.5M490.2 471.5V412.0H510.0V471.5M460.5 411.5V391.5H500.1V412.0M420.9 399.0V379.0H480.3V391.5M307.1 368.0V366.0H450.6V379.0M109.0 356.0V334.0H378.8V366.0"/>
<rect x="51.5" y="473" width="145" height="5.8" fill="#80d04c"/>
<rect x="207.6" y="473" width="149.5" height="5.8" fill="#6d2383"/>
<rect x="366.9" y="473" width="149.4" height="5.8" fill="#e0221e"/>
<text class="dl" text-anchor="end" transform="translate(59.6 483.3) rotate(-90)">Donor 1.1 Classical</text>
<text class="dl" text-anchor="end" transform="translate(77.8 483.3) rotate(-90)">Donor 1.2 Classical</text>
<text class="dl" text-anchor="end" transform="translate(98.2 483.3) rotate(-90)">Donor 2.1 Classical</text>
<text class="dl" text-anchor="end" transform="translate(117.0 483.3) rotate(-90)">Donor 2.2 Classical</text>
<text class="dl" text-anchor="end" transform="translate(137.0 483.3) rotate(-90)">Donor 3.1 Classical</text>
<text class="dl" text-anchor="end" transform="translate(157.0 483.3) rotate(-90)">Donor 3.2 Classical</text>
<text class="dl" text-anchor="end" transform="translate(177.3 483.3) rotate(-90)">Donor 4.1 Classical</text>
<text class="dl" text-anchor="end" transform="translate(195.8 483.3) rotate(-90)">Donor 4.2 Classical</text>
<text class="dl" text-anchor="end" transform="translate(215.8 483.3) rotate(-90)">Donor 1.1 Intermediate</text>
<text class="dl" text-anchor="end" transform="translate(234.2 483.3) rotate(-90)">Donor 1.2 Intermediate</text>
<text class="dl" text-anchor="end" transform="translate(255.8 483.3) rotate(-90)">Donor 2.1 Intermediate</text>
<text class="dl" text-anchor="end" transform="translate(275.5 483.3) rotate(-90)">Donor 2.2 Intermediate</text>
<text class="dl" text-anchor="end" transform="translate(295.8 483.3) rotate(-90)">Donor 3.1 Intermediate</text>
<text class="dl" text-anchor="end" transform="translate(315.8 483.3) rotate(-90)">Donor 3.2 Intermediate</text>
<text class="dl" text-anchor="end" transform="translate(336.2 481.5) rotate(-90)">Donor 4.1 Intermediate</text>
<text class="dl" text-anchor="end" transform="translate(355.5 481.5) rotate(-90)">Donor 4.2 Intermediate</text>
<text class="dl" text-anchor="end" transform="translate(377.0 483.3) rotate(-90)">Donor 4.1 Nonclassical</text>
<text class="dl" text-anchor="end" transform="translate(395.2 483.3) rotate(-90)">Donor 4.2 Nonclassical</text>
<text class="dl" text-anchor="end" transform="translate(415.9 483.3) rotate(-90)">Donor 1.1 Nonclassical</text>
<text class="dl" text-anchor="end" transform="translate(434.7 483.3) rotate(-90)">Donor 1.2 Nonclassical</text>
<text class="dl" text-anchor="end" transform="translate(456.3 483.3) rotate(-90)">Donor 2.1 Nonclassical</text>
<text class="dl" text-anchor="end" transform="translate(473.2 483.3) rotate(-90)">Donor 2.2 Nonclassical</text>
<text class="dl" text-anchor="end" transform="translate(494.8 483.3) rotate(-90)">Donor 3.1 Nonclassical</text>
<text class="dl" text-anchor="end" transform="translate(510.8 483.3) rotate(-90)">Donor 3.2 Nonclassical</text>
</g>
<g id="panelC">
<text class="big" x="3.6" y="653">C</text>
<path d="M52.6 672.8V859.3H379" fill="none" stroke="#8c8c8c" stroke-width="1.3"/>
<path d="M49 673.5H53.5M49 719.9H53.5M49 766.3H53.5M49 812.7H53.5M49 859.1H53.5M53.0 857.2V861.6M99.5 857.2V861.6M145.9 857.2V861.6M192.4 857.2V861.6M238.8 857.2V861.6M285.2 857.2V861.6M331.7 857.2V861.6M378.2 857.2V861.6" stroke="#8c8c8c" stroke-width="1.2" fill="none"/>
<text class="ax" text-anchor="end" x="40.5" y="677.5">10</text>
<text class="ax" text-anchor="end" x="40.5" y="723.9">5</text>
<text class="ax" text-anchor="end" x="40.5" y="770.3">0</text>
<text class="ax" text-anchor="end" x="40.5" y="816.7">-5</text>
<text class="ax" text-anchor="end" x="40.5" y="863.1">-10</text>
<text class="ax" text-anchor="middle" x="53.0" y="884.3">-2</text>
<text class="ax" text-anchor="middle" x="99.5" y="884.3">-1.5</text>
<text class="ax" text-anchor="middle" x="145.9" y="884.3">-1</text>
<text class="ax" text-anchor="middle" x="192.4" y="884.3">-0.5</text>
<text class="ax" text-anchor="middle" x="238.8" y="884.3">0</text>
<text class="ax" text-anchor="middle" x="285.2" y="884.3">0.5</text>
<text class="ax" text-anchor="middle" x="331.7" y="884.3">1</text>
<text class="ax" text-anchor="middle" x="378.2" y="884.3">1.5</text>
<text class="ax" style="font-size:12.35px" x="183.5" y="901">component 1 (10<tspan font-size="7.5" dy="-4.5">5</tspan><tspan dy="4.5">)</tspan></text>
<text class="ax" style="font-size:12.45px" text-anchor="middle" transform="translate(25.8 762.8) rotate(-90)">Component 2 (10<tspan font-size="7.5" dy="-4.5">4</tspan><tspan dy="4.5">)</tspan></text>
<text class="lab153" x="99" y="706.3">classical</text>
<text class="lab153" x="206.1" y="660.5">intermediate</text>
<text class="lab153" x="277.8" y="673.5">nonclassical</text>
<ellipse class="el" cx="130.9" cy="791" rx="40.3" ry="79.6"/>
<ellipse class="el" cx="269.2" cy="743.5" rx="23" ry="79.6" transform="rotate(-15.5 269.4 743.5)"/>
<ellipse class="el" cx="320.4" cy="755.5" rx="16.6" ry="79.4"/>
<path d="M120.4 742.9L125.3 753.1H115.5Z" fill="#6cb052" stroke="#16300e" stroke-width="1.4" stroke-linejoin="miter"/>
<path d="M111.2 745.9L116.1 756.1H106.3Z" fill="#6cb052" stroke="#16300e" stroke-width="1.4" stroke-linejoin="miter"/>
<rect x="107.0" y="727.4" width="10.4" height="10.4" fill="#8a9a56" stroke="#28326a" stroke-width="1.4"/>
<path d="M112.3 727.3L117.9 732.6L112.3 737.9L106.7 732.6Z" fill="#4e8c2c" stroke="#0e2008" stroke-width="1.4"/>
<rect x="115.9" y="739.5" width="10.4" height="10.4" fill="#8a9a56" stroke="#28326a" stroke-width="1.4"/>
<path d="M137.7 777.6L143.6 783.2L137.7 788.8L131.8 783.2Z" fill="#4e8c2c" stroke="#0e2008" stroke-width="1.4"/>
<circle cx="97.3" cy="792.1" r="5.5" fill="#8ea64e" stroke="#1a260e" stroke-width="1.4"/>
<circle cx="145.5" cy="858.0" r="5.5" fill="#8ea64e" stroke="#1a260e" stroke-width="1.4"/>
<rect x="248.4" y="684.8" width="10.4" height="10.4" fill="#6a38b0" stroke="#140a2c" stroke-width="1.4"/>
<rect x="245.9" y="679.3" width="10.4" height="10.4" fill="#6a38b0" stroke="#140a2c" stroke-width="1.4"/>
<path d="M266.0 718.0L270.9 728.2H261.1Z" fill="#6a38b0" stroke="#140a2c" stroke-width="1.4" stroke-linejoin="miter"/>
<path d="M264.2 728.0L270.1 733.6L264.2 739.2L258.3 733.6Z" fill="#6a38b0" stroke="#140a2c" stroke-width="1.4"/>
<path d="M273.0 747.3L277.9 757.5H268.1Z" fill="#6a38b0" stroke="#140a2c" stroke-width="1.4" stroke-linejoin="miter"/>
<path d="M276.3 754.7L282.2 760.3L276.3 765.9L270.4 760.3Z" fill="#6a38b0" stroke="#140a2c" stroke-width="1.4"/>
<circle cx="288.6" cy="807.2" r="5.5" fill="#6a38b0" stroke="#140a2c" stroke-width="1.4"/>
<circle cx="290.0" cy="808.0" r="5.5" fill="#6a38b0" stroke="#140a2c" stroke-width="1.4"/>
<rect x="308.7" y="701.6" width="10.4" height="10.4" fill="#e41414" stroke="#300404" stroke-width="1.4"/>
<rect x="318.1" y="751.4" width="10.4" height="10.4" fill="#e41414" stroke="#300404" stroke-width="1.4"/>
<path d="M322.4 764.0L328.3 769.6L322.4 775.2L316.5 769.6Z" fill="#e41414" stroke="#300404" stroke-width="1.4"/>
<path d="M322.6 778.0L327.5 788.2H317.7Z" fill="#e41414" stroke="#300404" stroke-width="1.4" stroke-linejoin="miter"/>
<path d="M327.1 781.7L333.0 787.3L327.1 792.9L321.2 787.3Z" fill="#e41414" stroke="#300404" stroke-width="1.4"/>
<circle cx="324.4" cy="813.5" r="5.5" fill="#e41414" stroke="#300404" stroke-width="1.4"/>
<circle cx="324.8" cy="806.8" r="5.5" fill="#e41414" stroke="#300404" stroke-width="1.4"/>
<path d="M392.4 678.0L395.2 683.8H389.6Z" fill="#6cb052" stroke="#16300e" stroke-width="1.5" stroke-linejoin="miter"/>
<text class="lg" x="398" y="685.1">Classical Donor 1</text>
<rect x="389.5" y="694.3" width="5.8" height="5.8" fill="#8a9a56" stroke="#28326a" stroke-width="1.5"/>
<text class="lg" x="398" y="701.5">Classical Donor 2</text>
<path d="M392.4 710.5L395.7 713.6L392.4 716.8L389.1 713.6Z" fill="#4e8c2c" stroke="#0e2008" stroke-width="1.5"/>
<text class="lg" x="398" y="717.9">Classical Donor 3</text>
<circle cx="392.4" cy="730.0" r="3.2" fill="#8ea64e" stroke="#1a260e" stroke-width="1.5"/>
<text class="lg" x="398" y="734.3">Classical Donor 4</text>
<path d="M392.4 743.7L395.2 749.4H389.6Z" fill="#6a38b0" stroke="#140a2c" stroke-width="1.5" stroke-linejoin="miter"/>
<text class="lg" x="398" y="750.7">Intermediate Donor 1</text>
<rect x="389.5" y="759.9" width="5.8" height="5.8" fill="#6a38b0" stroke="#140a2c" stroke-width="1.5"/>
<text class="lg" x="398" y="767.1">Intermediate Donor 2</text>
<path d="M392.4 776.1L395.7 779.3L392.4 782.4L389.1 779.3Z" fill="#6a38b0" stroke="#140a2c" stroke-width="1.5"/>
<text class="lg" x="398" y="783.6">Intermediate Donor 3</text>
<circle cx="392.4" cy="795.7" r="3.2" fill="#6a38b0" stroke="#140a2c" stroke-width="1.5"/>
<text class="lg" x="398" y="800.0">Intermediate Donor 4</text>
<path d="M392.4 809.3L395.2 815.0H389.6Z" fill="#e41414" stroke="#300404" stroke-width="1.5" stroke-linejoin="miter"/>
<text class="lg" x="398" y="816.4">nonclassical Donor 1</text>
<rect x="389.5" y="825.6" width="5.8" height="5.8" fill="#e41414" stroke="#300404" stroke-width="1.5"/>
<text class="lg" x="398" y="832.8">nonclassical Donor 2</text>
<path d="M392.4 841.8L395.7 844.9L392.4 848.0L389.1 844.9Z" fill="#e41414" stroke="#300404" stroke-width="1.5"/>
<text class="lg" x="398" y="849.2">nonclassical Donor 3</text>
<circle cx="392.4" cy="861.3" r="3.2" fill="#e41414" stroke="#300404" stroke-width="1.5"/>
<text class="lg" x="398" y="865.6">nonclassical Donor 4</text>
</g>
<g id="panelD">
<text class="big" x="3.3" y="970">D</text>
<path d="M98.8 1048.2L262.3 991.5M101 1053.6H357M344.3 996.5L363.6 1043.4" stroke="#111" stroke-width="1.9" fill="none"/>
<g filter="url(#sh)" font-size="15.2px" font-weight="bold" stroke="none" style="stroke:none">
<text transform="translate(32 1058.4) scale(1 1.05)" style="fill:#4e8a2c;stroke:none">Classical</text>
<text transform="translate(262.4 994.3) scale(1 1.05)" style="fill:#6a3fb0;stroke:none">Intermediate</text>
<text transform="translate(356 1057.2) scale(1 1.05)" style="fill:#a01818;stroke:none">Nonclassical</text>
</g>
<text class="b" font-size="12" text-anchor="middle" x="182" y="1010.2">942</text>
<text class="b" font-size="12" text-anchor="middle" x="371.8" y="1021.4">249</text>
<text class="b" font-size="12" text-anchor="middle" x="230.8" y="1069.5">1456</text>
<text font-size="12.3" text-anchor="middle" x="260.6" y="1033.5">1554 differentially expressed</text>
<text font-size="12.3" text-anchor="middle" x="260.8" y="1047.5">genes</text>
</g>
</g>
</svg></body></html>
